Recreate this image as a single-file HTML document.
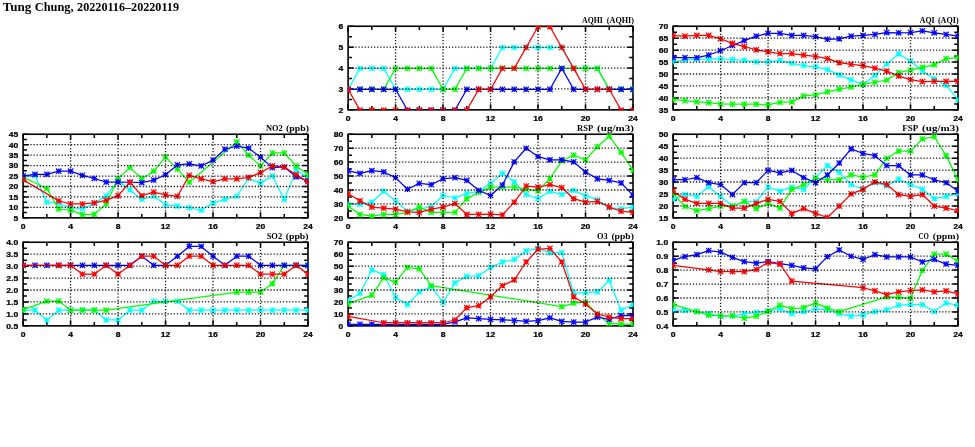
<!DOCTYPE html>
<html><head><meta charset="utf-8"><style>
html,body{margin:0;padding:0;background:#fff;width:975px;height:447px;overflow:hidden}
svg{display:block;will-change:transform}
.n{font-family:"Liberation Sans",sans-serif;font-weight:bold;font-size:7.8px;fill:#000;stroke:#000;stroke-width:0.25}
.t{font-family:"Liberation Serif",serif;font-weight:bold;font-size:9.1px;fill:#000}
.m{font-family:"Liberation Serif",serif;font-weight:bold;font-size:11.6px;fill:#000}
</style></head><body>
<svg width="975" height="447" viewBox="0 0 975 447">
<text class="m" x="2.7" y="10.9" textLength="28.6" lengthAdjust="spacingAndGlyphs">Tung</text><text class="m" x="34.7" y="10.9" textLength="39.0" lengthAdjust="spacingAndGlyphs">Chung,</text><text class="m" x="77.1" y="10.9" textLength="101.9" lengthAdjust="spacingAndGlyphs">20220116&#8211;20220119</text>
<path d="M348.1 109.85h5.6 M633 109.85h-5.6 M348.1 99.4h3.8 M633 99.4h-3.8 M348.1 88.95h5.6 M633 88.95h-5.6 M348.1 78.5h3.8 M633 78.5h-3.8 M348.1 68.05h5.6 M633 68.05h-5.6 M348.1 57.6h3.8 M633 57.6h-3.8 M348.1 47.15h5.6 M633 47.15h-5.6 M348.1 36.7h3.8 M633 36.7h-3.8 M348.1 26.25h5.6 M633 26.25h-5.6 M348.1 109.85v-5.6 M348.1 26.25v5.6 M371.84 109.85v-3.8 M371.84 26.25v3.8 M395.58 109.85v-5.6 M395.58 26.25v5.6 M419.33 109.85v-3.8 M419.33 26.25v3.8 M443.07 109.85v-5.6 M443.07 26.25v5.6 M466.81 109.85v-3.8 M466.81 26.25v3.8 M490.55 109.85v-5.6 M490.55 26.25v5.6 M514.29 109.85v-3.8 M514.29 26.25v3.8 M538.03 109.85v-5.6 M538.03 26.25v5.6 M561.77 109.85v-3.8 M561.77 26.25v3.8 M585.52 109.85v-5.6 M585.52 26.25v5.6 M609.26 109.85v-3.8 M609.26 26.25v3.8 M633 109.85v-5.6 M633 26.25v5.6" stroke="#000" stroke-width="1.5" fill="none"/>
<rect x="348.1" y="26.25" width="284.9" height="83.6" fill="none" stroke="#000" stroke-width="1.6"/>
<clipPath id="c10"><rect x="347.65" y="25.8" width="285.8" height="84.5"/></clipPath>
<clipPath id="c10l"><rect x="348.9" y="27.05" width="283.3" height="82"/></clipPath>
<path clip-path="url(#c10l)" d="M348.1 89.3 L359.97 68.4 L371.84 68.4 L383.71 68.4 L395.58 89.3 L407.45 89.3 L419.33 89.3 L431.2 89.3 L443.07 89.3 L454.94 68.4 L466.81 68.4 L478.68 68.4 L490.55 68.4 L502.42 47.5 L514.29 47.5 L526.16 47.5 L538.03 47.5 L549.9 47.5 L561.77 47.5 L573.65 68.4 L585.52 68.4 L597.39 68.4 L609.26 89.3 L621.13 89.3 L633 89.3" stroke="#00ffff" stroke-width="1.25" fill="none" stroke-linejoin="round"/>
<path clip-path="url(#c10)" d="M345.4 89.3h5.4 M348.1 86.6v5.4 M345.4 86.6l5.4 5.4 M345.4 92l5.4 -5.4 M357.27 68.4h5.4 M359.97 65.7v5.4 M357.27 65.7l5.4 5.4 M357.27 71.1l5.4 -5.4 M369.14 68.4h5.4 M371.84 65.7v5.4 M369.14 65.7l5.4 5.4 M369.14 71.1l5.4 -5.4 M381.01 68.4h5.4 M383.71 65.7v5.4 M381.01 65.7l5.4 5.4 M381.01 71.1l5.4 -5.4 M392.88 89.3h5.4 M395.58 86.6v5.4 M392.88 86.6l5.4 5.4 M392.88 92l5.4 -5.4 M404.75 89.3h5.4 M407.45 86.6v5.4 M404.75 86.6l5.4 5.4 M404.75 92l5.4 -5.4 M416.63 89.3h5.4 M419.33 86.6v5.4 M416.63 86.6l5.4 5.4 M416.63 92l5.4 -5.4 M428.5 89.3h5.4 M431.2 86.6v5.4 M428.5 86.6l5.4 5.4 M428.5 92l5.4 -5.4 M440.37 89.3h5.4 M443.07 86.6v5.4 M440.37 86.6l5.4 5.4 M440.37 92l5.4 -5.4 M452.24 68.4h5.4 M454.94 65.7v5.4 M452.24 65.7l5.4 5.4 M452.24 71.1l5.4 -5.4 M464.11 68.4h5.4 M466.81 65.7v5.4 M464.11 65.7l5.4 5.4 M464.11 71.1l5.4 -5.4 M475.98 68.4h5.4 M478.68 65.7v5.4 M475.98 65.7l5.4 5.4 M475.98 71.1l5.4 -5.4 M487.85 68.4h5.4 M490.55 65.7v5.4 M487.85 65.7l5.4 5.4 M487.85 71.1l5.4 -5.4 M499.72 47.5h5.4 M502.42 44.8v5.4 M499.72 44.8l5.4 5.4 M499.72 50.2l5.4 -5.4 M511.59 47.5h5.4 M514.29 44.8v5.4 M511.59 44.8l5.4 5.4 M511.59 50.2l5.4 -5.4 M523.46 47.5h5.4 M526.16 44.8v5.4 M523.46 44.8l5.4 5.4 M523.46 50.2l5.4 -5.4 M535.33 47.5h5.4 M538.03 44.8v5.4 M535.33 44.8l5.4 5.4 M535.33 50.2l5.4 -5.4 M547.2 47.5h5.4 M549.9 44.8v5.4 M547.2 44.8l5.4 5.4 M547.2 50.2l5.4 -5.4 M559.07 47.5h5.4 M561.77 44.8v5.4 M559.07 44.8l5.4 5.4 M559.07 50.2l5.4 -5.4 M570.95 68.4h5.4 M573.65 65.7v5.4 M570.95 65.7l5.4 5.4 M570.95 71.1l5.4 -5.4 M582.82 68.4h5.4 M585.52 65.7v5.4 M582.82 65.7l5.4 5.4 M582.82 71.1l5.4 -5.4 M594.69 68.4h5.4 M597.39 65.7v5.4 M594.69 65.7l5.4 5.4 M594.69 71.1l5.4 -5.4 M606.56 89.3h5.4 M609.26 86.6v5.4 M606.56 86.6l5.4 5.4 M606.56 92l5.4 -5.4 M618.43 89.3h5.4 M621.13 86.6v5.4 M618.43 86.6l5.4 5.4 M618.43 92l5.4 -5.4 M630.3 89.3h5.4 M633 86.6v5.4 M630.3 86.6l5.4 5.4 M630.3 92l5.4 -5.4" stroke="#00ffff" stroke-width="1.15" fill="none"/>
<path clip-path="url(#c10l)" d="M348.1 89.3 L359.97 89.3 L371.84 89.3 L383.71 89.3 L395.58 68.4 L407.45 68.4 L419.33 68.4 L431.2 68.4 L443.07 89.3 L454.94 89.3 L466.81 68.4 L478.68 68.4 L490.55 68.4 L502.42 68.4 L514.29 68.4 L526.16 68.4 L538.03 68.4 L549.9 68.4 L561.77 68.4 L573.65 68.4 L585.52 68.4 L597.39 68.4 L609.26 89.3 L621.13 89.3 L633 89.3" stroke="#00ff00" stroke-width="1.25" fill="none" stroke-linejoin="round"/>
<path clip-path="url(#c10)" d="M345.4 89.3h5.4 M348.1 86.6v5.4 M345.4 86.6l5.4 5.4 M345.4 92l5.4 -5.4 M357.27 89.3h5.4 M359.97 86.6v5.4 M357.27 86.6l5.4 5.4 M357.27 92l5.4 -5.4 M369.14 89.3h5.4 M371.84 86.6v5.4 M369.14 86.6l5.4 5.4 M369.14 92l5.4 -5.4 M381.01 89.3h5.4 M383.71 86.6v5.4 M381.01 86.6l5.4 5.4 M381.01 92l5.4 -5.4 M392.88 68.4h5.4 M395.58 65.7v5.4 M392.88 65.7l5.4 5.4 M392.88 71.1l5.4 -5.4 M404.75 68.4h5.4 M407.45 65.7v5.4 M404.75 65.7l5.4 5.4 M404.75 71.1l5.4 -5.4 M416.63 68.4h5.4 M419.33 65.7v5.4 M416.63 65.7l5.4 5.4 M416.63 71.1l5.4 -5.4 M428.5 68.4h5.4 M431.2 65.7v5.4 M428.5 65.7l5.4 5.4 M428.5 71.1l5.4 -5.4 M440.37 89.3h5.4 M443.07 86.6v5.4 M440.37 86.6l5.4 5.4 M440.37 92l5.4 -5.4 M452.24 89.3h5.4 M454.94 86.6v5.4 M452.24 86.6l5.4 5.4 M452.24 92l5.4 -5.4 M464.11 68.4h5.4 M466.81 65.7v5.4 M464.11 65.7l5.4 5.4 M464.11 71.1l5.4 -5.4 M475.98 68.4h5.4 M478.68 65.7v5.4 M475.98 65.7l5.4 5.4 M475.98 71.1l5.4 -5.4 M487.85 68.4h5.4 M490.55 65.7v5.4 M487.85 65.7l5.4 5.4 M487.85 71.1l5.4 -5.4 M499.72 68.4h5.4 M502.42 65.7v5.4 M499.72 65.7l5.4 5.4 M499.72 71.1l5.4 -5.4 M511.59 68.4h5.4 M514.29 65.7v5.4 M511.59 65.7l5.4 5.4 M511.59 71.1l5.4 -5.4 M523.46 68.4h5.4 M526.16 65.7v5.4 M523.46 65.7l5.4 5.4 M523.46 71.1l5.4 -5.4 M535.33 68.4h5.4 M538.03 65.7v5.4 M535.33 65.7l5.4 5.4 M535.33 71.1l5.4 -5.4 M547.2 68.4h5.4 M549.9 65.7v5.4 M547.2 65.7l5.4 5.4 M547.2 71.1l5.4 -5.4 M559.07 68.4h5.4 M561.77 65.7v5.4 M559.07 65.7l5.4 5.4 M559.07 71.1l5.4 -5.4 M570.95 68.4h5.4 M573.65 65.7v5.4 M570.95 65.7l5.4 5.4 M570.95 71.1l5.4 -5.4 M582.82 68.4h5.4 M585.52 65.7v5.4 M582.82 65.7l5.4 5.4 M582.82 71.1l5.4 -5.4 M594.69 68.4h5.4 M597.39 65.7v5.4 M594.69 65.7l5.4 5.4 M594.69 71.1l5.4 -5.4 M606.56 89.3h5.4 M609.26 86.6v5.4 M606.56 86.6l5.4 5.4 M606.56 92l5.4 -5.4 M618.43 89.3h5.4 M621.13 86.6v5.4 M618.43 86.6l5.4 5.4 M618.43 92l5.4 -5.4 M630.3 89.3h5.4 M633 86.6v5.4 M630.3 86.6l5.4 5.4 M630.3 92l5.4 -5.4" stroke="#00ff00" stroke-width="1.15" fill="none"/>
<path clip-path="url(#c10l)" d="M348.1 89.3 L359.97 89.3 L371.84 89.3 L383.71 89.3 L395.58 89.3 L407.45 110.2 L419.33 110.2 L431.2 110.2 L443.07 110.2 L454.94 110.2 L466.81 89.3 L478.68 89.3 L490.55 89.3 L502.42 89.3 L514.29 89.3 L526.16 89.3 L538.03 89.3 L549.9 89.3 L561.77 68.4 L573.65 89.3 L585.52 89.3 L597.39 89.3 L609.26 89.3 L621.13 89.3 L633 89.3" stroke="#0000ff" stroke-width="1.25" fill="none" stroke-linejoin="round"/>
<path clip-path="url(#c10)" d="M345.4 89.3h5.4 M348.1 86.6v5.4 M345.4 86.6l5.4 5.4 M345.4 92l5.4 -5.4 M357.27 89.3h5.4 M359.97 86.6v5.4 M357.27 86.6l5.4 5.4 M357.27 92l5.4 -5.4 M369.14 89.3h5.4 M371.84 86.6v5.4 M369.14 86.6l5.4 5.4 M369.14 92l5.4 -5.4 M381.01 89.3h5.4 M383.71 86.6v5.4 M381.01 86.6l5.4 5.4 M381.01 92l5.4 -5.4 M392.88 89.3h5.4 M395.58 86.6v5.4 M392.88 86.6l5.4 5.4 M392.88 92l5.4 -5.4 M404.75 110.2h5.4 M407.45 107.5v5.4 M404.75 107.5l5.4 5.4 M404.75 112.9l5.4 -5.4 M416.63 110.2h5.4 M419.33 107.5v5.4 M416.63 107.5l5.4 5.4 M416.63 112.9l5.4 -5.4 M428.5 110.2h5.4 M431.2 107.5v5.4 M428.5 107.5l5.4 5.4 M428.5 112.9l5.4 -5.4 M440.37 110.2h5.4 M443.07 107.5v5.4 M440.37 107.5l5.4 5.4 M440.37 112.9l5.4 -5.4 M452.24 110.2h5.4 M454.94 107.5v5.4 M452.24 107.5l5.4 5.4 M452.24 112.9l5.4 -5.4 M464.11 89.3h5.4 M466.81 86.6v5.4 M464.11 86.6l5.4 5.4 M464.11 92l5.4 -5.4 M475.98 89.3h5.4 M478.68 86.6v5.4 M475.98 86.6l5.4 5.4 M475.98 92l5.4 -5.4 M487.85 89.3h5.4 M490.55 86.6v5.4 M487.85 86.6l5.4 5.4 M487.85 92l5.4 -5.4 M499.72 89.3h5.4 M502.42 86.6v5.4 M499.72 86.6l5.4 5.4 M499.72 92l5.4 -5.4 M511.59 89.3h5.4 M514.29 86.6v5.4 M511.59 86.6l5.4 5.4 M511.59 92l5.4 -5.4 M523.46 89.3h5.4 M526.16 86.6v5.4 M523.46 86.6l5.4 5.4 M523.46 92l5.4 -5.4 M535.33 89.3h5.4 M538.03 86.6v5.4 M535.33 86.6l5.4 5.4 M535.33 92l5.4 -5.4 M547.2 89.3h5.4 M549.9 86.6v5.4 M547.2 86.6l5.4 5.4 M547.2 92l5.4 -5.4 M559.07 68.4h5.4 M561.77 65.7v5.4 M559.07 65.7l5.4 5.4 M559.07 71.1l5.4 -5.4 M570.95 89.3h5.4 M573.65 86.6v5.4 M570.95 86.6l5.4 5.4 M570.95 92l5.4 -5.4 M582.82 89.3h5.4 M585.52 86.6v5.4 M582.82 86.6l5.4 5.4 M582.82 92l5.4 -5.4 M594.69 89.3h5.4 M597.39 86.6v5.4 M594.69 86.6l5.4 5.4 M594.69 92l5.4 -5.4 M606.56 89.3h5.4 M609.26 86.6v5.4 M606.56 86.6l5.4 5.4 M606.56 92l5.4 -5.4 M618.43 89.3h5.4 M621.13 86.6v5.4 M618.43 86.6l5.4 5.4 M618.43 92l5.4 -5.4 M630.3 89.3h5.4 M633 86.6v5.4 M630.3 86.6l5.4 5.4 M630.3 92l5.4 -5.4" stroke="#0000ff" stroke-width="1.15" fill="none"/>
<path clip-path="url(#c10l)" d="M348.1 89.3 L359.97 110.2 L371.84 110.2 L383.71 110.2 L395.58 110.2 L407.45 110.2 L419.33 110.2 L431.2 110.2 L443.07 110.2 L454.94 110.2 L466.81 110.2 L478.68 89.3 L490.55 89.3 L502.42 68.4 L514.29 68.4 L526.16 47.5 L538.03 26.6 L549.9 26.6 L561.77 47.5 L573.65 68.4 L585.52 89.3 L597.39 89.3 L609.26 89.3 L621.13 110.2 L633 110.2" stroke="#ff0000" stroke-width="1.25" fill="none" stroke-linejoin="round"/>
<path clip-path="url(#c10)" d="M345.4 89.3h5.4 M348.1 86.6v5.4 M345.4 86.6l5.4 5.4 M345.4 92l5.4 -5.4 M357.27 110.2h5.4 M359.97 107.5v5.4 M357.27 107.5l5.4 5.4 M357.27 112.9l5.4 -5.4 M369.14 110.2h5.4 M371.84 107.5v5.4 M369.14 107.5l5.4 5.4 M369.14 112.9l5.4 -5.4 M381.01 110.2h5.4 M383.71 107.5v5.4 M381.01 107.5l5.4 5.4 M381.01 112.9l5.4 -5.4 M392.88 110.2h5.4 M395.58 107.5v5.4 M392.88 107.5l5.4 5.4 M392.88 112.9l5.4 -5.4 M404.75 110.2h5.4 M407.45 107.5v5.4 M404.75 107.5l5.4 5.4 M404.75 112.9l5.4 -5.4 M416.63 110.2h5.4 M419.33 107.5v5.4 M416.63 107.5l5.4 5.4 M416.63 112.9l5.4 -5.4 M428.5 110.2h5.4 M431.2 107.5v5.4 M428.5 107.5l5.4 5.4 M428.5 112.9l5.4 -5.4 M440.37 110.2h5.4 M443.07 107.5v5.4 M440.37 107.5l5.4 5.4 M440.37 112.9l5.4 -5.4 M452.24 110.2h5.4 M454.94 107.5v5.4 M452.24 107.5l5.4 5.4 M452.24 112.9l5.4 -5.4 M464.11 110.2h5.4 M466.81 107.5v5.4 M464.11 107.5l5.4 5.4 M464.11 112.9l5.4 -5.4 M475.98 89.3h5.4 M478.68 86.6v5.4 M475.98 86.6l5.4 5.4 M475.98 92l5.4 -5.4 M487.85 89.3h5.4 M490.55 86.6v5.4 M487.85 86.6l5.4 5.4 M487.85 92l5.4 -5.4 M499.72 68.4h5.4 M502.42 65.7v5.4 M499.72 65.7l5.4 5.4 M499.72 71.1l5.4 -5.4 M511.59 68.4h5.4 M514.29 65.7v5.4 M511.59 65.7l5.4 5.4 M511.59 71.1l5.4 -5.4 M523.46 47.5h5.4 M526.16 44.8v5.4 M523.46 44.8l5.4 5.4 M523.46 50.2l5.4 -5.4 M535.33 26.6h5.4 M538.03 23.9v5.4 M535.33 23.9l5.4 5.4 M535.33 29.3l5.4 -5.4 M547.2 26.6h5.4 M549.9 23.9v5.4 M547.2 23.9l5.4 5.4 M547.2 29.3l5.4 -5.4 M559.07 47.5h5.4 M561.77 44.8v5.4 M559.07 44.8l5.4 5.4 M559.07 50.2l5.4 -5.4 M570.95 68.4h5.4 M573.65 65.7v5.4 M570.95 65.7l5.4 5.4 M570.95 71.1l5.4 -5.4 M582.82 89.3h5.4 M585.52 86.6v5.4 M582.82 86.6l5.4 5.4 M582.82 92l5.4 -5.4 M594.69 89.3h5.4 M597.39 86.6v5.4 M594.69 86.6l5.4 5.4 M594.69 92l5.4 -5.4 M606.56 89.3h5.4 M609.26 86.6v5.4 M606.56 86.6l5.4 5.4 M606.56 92l5.4 -5.4 M618.43 110.2h5.4 M621.13 107.5v5.4 M618.43 107.5l5.4 5.4 M618.43 112.9l5.4 -5.4 M630.3 110.2h5.4 M633 107.5v5.4 M630.3 107.5l5.4 5.4 M630.3 112.9l5.4 -5.4" stroke="#ff0000" stroke-width="1.15" fill="none"/>
<path d="M348.1 88.95H633 M348.1 68.05H633 M348.1 47.15H633" stroke="#000" stroke-width="1.3" stroke-dasharray="1.3 1.8175" stroke-dashoffset="2.1335" stroke-opacity="0.9" fill="none"/><path d="M395.58 26.25V109.85 M443.07 26.25V109.85 M490.55 26.25V109.85 M538.03 26.25V109.85 M585.52 26.25V109.85" stroke="#000" stroke-width="1.3" stroke-dasharray="1.3 1.8175" stroke-dashoffset="1.9475" stroke-opacity="0.9" fill="none"/>
<text class="n" transform="translate(343.2 112.65) scale(1.1 1)" text-anchor="end">2</text>
<text class="n" transform="translate(343.2 91.75) scale(1.1 1)" text-anchor="end">3</text>
<text class="n" transform="translate(343.2 70.85) scale(1.1 1)" text-anchor="end">4</text>
<text class="n" transform="translate(343.2 49.95) scale(1.1 1)" text-anchor="end">5</text>
<text class="n" transform="translate(343.2 29.05) scale(1.1 1)" text-anchor="end">6</text>
<text class="n" transform="translate(348.1 120.85) scale(1.1 1)" text-anchor="middle">0</text>
<text class="n" transform="translate(395.58 120.85) scale(1.1 1)" text-anchor="middle">4</text>
<text class="n" transform="translate(443.07 120.85) scale(1.1 1)" text-anchor="middle">8</text>
<text class="n" transform="translate(490.55 120.85) scale(1.1 1)" text-anchor="middle">12</text>
<text class="n" transform="translate(538.03 120.85) scale(1.1 1)" text-anchor="middle">16</text>
<text class="n" transform="translate(585.52 120.85) scale(1.1 1)" text-anchor="middle">20</text>
<text class="n" transform="translate(633 120.85) scale(1.1 1)" text-anchor="middle">24</text>
<text class="t" x="582" y="22.7" textLength="20.8" lengthAdjust="spacingAndGlyphs">AQHI</text>
<text class="t" x="606.8" y="22.7" textLength="27.2" lengthAdjust="spacingAndGlyphs">(AQHI)</text>
<path d="M673.1 109.85h5.6 M958 109.85h-5.6 M673.1 103.88h3.8 M958 103.88h-3.8 M673.1 97.91h5.6 M958 97.91h-5.6 M673.1 91.94h3.8 M958 91.94h-3.8 M673.1 85.96h5.6 M958 85.96h-5.6 M673.1 79.99h3.8 M958 79.99h-3.8 M673.1 74.02h5.6 M958 74.02h-5.6 M673.1 68.05h3.8 M958 68.05h-3.8 M673.1 62.08h5.6 M958 62.08h-5.6 M673.1 56.11h3.8 M958 56.11h-3.8 M673.1 50.14h5.6 M958 50.14h-5.6 M673.1 44.16h3.8 M958 44.16h-3.8 M673.1 38.19h5.6 M958 38.19h-5.6 M673.1 32.22h3.8 M958 32.22h-3.8 M673.1 26.25h5.6 M958 26.25h-5.6 M673.1 109.85v-5.6 M673.1 26.25v5.6 M696.84 109.85v-3.8 M696.84 26.25v3.8 M720.58 109.85v-5.6 M720.58 26.25v5.6 M744.33 109.85v-3.8 M744.33 26.25v3.8 M768.07 109.85v-5.6 M768.07 26.25v5.6 M791.81 109.85v-3.8 M791.81 26.25v3.8 M815.55 109.85v-5.6 M815.55 26.25v5.6 M839.29 109.85v-3.8 M839.29 26.25v3.8 M863.03 109.85v-5.6 M863.03 26.25v5.6 M886.77 109.85v-3.8 M886.77 26.25v3.8 M910.52 109.85v-5.6 M910.52 26.25v5.6 M934.26 109.85v-3.8 M934.26 26.25v3.8 M958 109.85v-5.6 M958 26.25v5.6" stroke="#000" stroke-width="1.5" fill="none"/>
<rect x="673.1" y="26.25" width="284.9" height="83.6" fill="none" stroke="#000" stroke-width="1.6"/>
<clipPath id="c20"><rect x="672.65" y="25.8" width="285.8" height="84.5"/></clipPath>
<clipPath id="c20l"><rect x="673.9" y="27.05" width="283.3" height="82"/></clipPath>
<path clip-path="url(#c20l)" d="M673.1 61.95 L684.97 59.8 L696.84 59.08 L708.71 59.08 L720.58 58.85 L732.45 59.56 L744.33 60.28 L756.2 61.95 L768.07 61.95 L779.94 60.28 L791.81 63.38 L803.68 65.53 L815.55 66.97 L827.42 69.59 L839.29 74.85 L851.16 79.87 L863.03 84.4 L874.9 75.33 L886.77 64.1 L898.65 53.83 L910.52 61.23 L922.39 70.79 L934.26 78.67 L946.13 85.36 L958 99.69" stroke="#00ffff" stroke-width="1.25" fill="none" stroke-linejoin="round"/>
<path clip-path="url(#c20)" d="M670.4 61.95h5.4 M673.1 59.25v5.4 M670.4 59.25l5.4 5.4 M670.4 64.65l5.4 -5.4 M682.27 59.8h5.4 M684.97 57.1v5.4 M682.27 57.1l5.4 5.4 M682.27 62.5l5.4 -5.4 M694.14 59.08h5.4 M696.84 56.38v5.4 M694.14 56.38l5.4 5.4 M694.14 61.78l5.4 -5.4 M706.01 59.08h5.4 M708.71 56.38v5.4 M706.01 56.38l5.4 5.4 M706.01 61.78l5.4 -5.4 M717.88 58.85h5.4 M720.58 56.15v5.4 M717.88 56.15l5.4 5.4 M717.88 61.55l5.4 -5.4 M729.75 59.56h5.4 M732.45 56.86v5.4 M729.75 56.86l5.4 5.4 M729.75 62.26l5.4 -5.4 M741.62 60.28h5.4 M744.33 57.58v5.4 M741.62 57.58l5.4 5.4 M741.62 62.98l5.4 -5.4 M753.5 61.95h5.4 M756.2 59.25v5.4 M753.5 59.25l5.4 5.4 M753.5 64.65l5.4 -5.4 M765.37 61.95h5.4 M768.07 59.25v5.4 M765.37 59.25l5.4 5.4 M765.37 64.65l5.4 -5.4 M777.24 60.28h5.4 M779.94 57.58v5.4 M777.24 57.58l5.4 5.4 M777.24 62.98l5.4 -5.4 M789.11 63.38h5.4 M791.81 60.68v5.4 M789.11 60.68l5.4 5.4 M789.11 66.08l5.4 -5.4 M800.98 65.53h5.4 M803.68 62.83v5.4 M800.98 62.83l5.4 5.4 M800.98 68.23l5.4 -5.4 M812.85 66.97h5.4 M815.55 64.27v5.4 M812.85 64.27l5.4 5.4 M812.85 69.67l5.4 -5.4 M824.72 69.59h5.4 M827.42 66.89v5.4 M824.72 66.89l5.4 5.4 M824.72 72.29l5.4 -5.4 M836.59 74.85h5.4 M839.29 72.15v5.4 M836.59 72.15l5.4 5.4 M836.59 77.55l5.4 -5.4 M848.46 79.87h5.4 M851.16 77.17v5.4 M848.46 77.17l5.4 5.4 M848.46 82.57l5.4 -5.4 M860.33 84.4h5.4 M863.03 81.7v5.4 M860.33 81.7l5.4 5.4 M860.33 87.1l5.4 -5.4 M872.2 75.33h5.4 M874.9 72.63v5.4 M872.2 72.63l5.4 5.4 M872.2 78.03l5.4 -5.4 M884.07 64.1h5.4 M886.77 61.4v5.4 M884.07 61.4l5.4 5.4 M884.07 66.8l5.4 -5.4 M895.95 53.83h5.4 M898.65 51.13v5.4 M895.95 51.13l5.4 5.4 M895.95 56.53l5.4 -5.4 M907.82 61.23h5.4 M910.52 58.53v5.4 M907.82 58.53l5.4 5.4 M907.82 63.93l5.4 -5.4 M919.69 70.79h5.4 M922.39 68.09v5.4 M919.69 68.09l5.4 5.4 M919.69 73.49l5.4 -5.4 M931.56 78.67h5.4 M934.26 75.97v5.4 M931.56 75.97l5.4 5.4 M931.56 81.37l5.4 -5.4 M943.43 85.36h5.4 M946.13 82.66v5.4 M943.43 82.66l5.4 5.4 M943.43 88.06l5.4 -5.4 M955.3 99.69h5.4 M958 96.99v5.4 M955.3 96.99l5.4 5.4 M955.3 102.39l5.4 -5.4" stroke="#00ffff" stroke-width="1.15" fill="none"/>
<path clip-path="url(#c20l)" d="M673.1 99.69 L684.97 100.65 L696.84 101.84 L708.71 102.56 L720.58 103.99 L732.45 104.23 L744.33 104.23 L756.2 104.23 L768.07 104.95 L779.94 102.32 L791.81 101.84 L803.68 95.87 L815.55 94.91 L827.42 91.81 L839.29 89.18 L851.16 87.03 L863.03 84.4 L874.9 82.25 L886.77 80.1 L898.65 72.7 L910.52 70.07 L922.39 67.44 L934.26 64.82 L946.13 58.61 L958 57.65" stroke="#00ff00" stroke-width="1.25" fill="none" stroke-linejoin="round"/>
<path clip-path="url(#c20)" d="M670.4 99.69h5.4 M673.1 96.99v5.4 M670.4 96.99l5.4 5.4 M670.4 102.39l5.4 -5.4 M682.27 100.65h5.4 M684.97 97.95v5.4 M682.27 97.95l5.4 5.4 M682.27 103.35l5.4 -5.4 M694.14 101.84h5.4 M696.84 99.14v5.4 M694.14 99.14l5.4 5.4 M694.14 104.54l5.4 -5.4 M706.01 102.56h5.4 M708.71 99.86v5.4 M706.01 99.86l5.4 5.4 M706.01 105.26l5.4 -5.4 M717.88 103.99h5.4 M720.58 101.29v5.4 M717.88 101.29l5.4 5.4 M717.88 106.69l5.4 -5.4 M729.75 104.23h5.4 M732.45 101.53v5.4 M729.75 101.53l5.4 5.4 M729.75 106.93l5.4 -5.4 M741.62 104.23h5.4 M744.33 101.53v5.4 M741.62 101.53l5.4 5.4 M741.62 106.93l5.4 -5.4 M753.5 104.23h5.4 M756.2 101.53v5.4 M753.5 101.53l5.4 5.4 M753.5 106.93l5.4 -5.4 M765.37 104.95h5.4 M768.07 102.25v5.4 M765.37 102.25l5.4 5.4 M765.37 107.65l5.4 -5.4 M777.24 102.32h5.4 M779.94 99.62v5.4 M777.24 99.62l5.4 5.4 M777.24 105.02l5.4 -5.4 M789.11 101.84h5.4 M791.81 99.14v5.4 M789.11 99.14l5.4 5.4 M789.11 104.54l5.4 -5.4 M800.98 95.87h5.4 M803.68 93.17v5.4 M800.98 93.17l5.4 5.4 M800.98 98.57l5.4 -5.4 M812.85 94.91h5.4 M815.55 92.21v5.4 M812.85 92.21l5.4 5.4 M812.85 97.61l5.4 -5.4 M824.72 91.81h5.4 M827.42 89.11v5.4 M824.72 89.11l5.4 5.4 M824.72 94.51l5.4 -5.4 M836.59 89.18h5.4 M839.29 86.48v5.4 M836.59 86.48l5.4 5.4 M836.59 91.88l5.4 -5.4 M848.46 87.03h5.4 M851.16 84.33v5.4 M848.46 84.33l5.4 5.4 M848.46 89.73l5.4 -5.4 M860.33 84.4h5.4 M863.03 81.7v5.4 M860.33 81.7l5.4 5.4 M860.33 87.1l5.4 -5.4 M872.2 82.25h5.4 M874.9 79.55v5.4 M872.2 79.55l5.4 5.4 M872.2 84.95l5.4 -5.4 M884.07 80.1h5.4 M886.77 77.4v5.4 M884.07 77.4l5.4 5.4 M884.07 82.8l5.4 -5.4 M895.95 72.7h5.4 M898.65 70v5.4 M895.95 70l5.4 5.4 M895.95 75.4l5.4 -5.4 M907.82 70.07h5.4 M910.52 67.37v5.4 M907.82 67.37l5.4 5.4 M907.82 72.77l5.4 -5.4 M919.69 67.44h5.4 M922.39 64.74v5.4 M919.69 64.74l5.4 5.4 M919.69 70.14l5.4 -5.4 M931.56 64.82h5.4 M934.26 62.12v5.4 M931.56 62.12l5.4 5.4 M931.56 67.52l5.4 -5.4 M943.43 58.61h5.4 M946.13 55.91v5.4 M943.43 55.91l5.4 5.4 M943.43 61.31l5.4 -5.4 M955.3 57.65h5.4 M958 54.95v5.4 M955.3 54.95l5.4 5.4 M955.3 60.35l5.4 -5.4" stroke="#00ff00" stroke-width="1.15" fill="none"/>
<path clip-path="url(#c20l)" d="M673.1 57.65 L684.97 57.65 L696.84 57.65 L708.71 55.02 L720.58 50.72 L732.45 45.47 L744.33 40.69 L756.2 36.15 L768.07 33.29 L779.94 33.29 L791.81 35.44 L803.68 35.44 L815.55 36.63 L827.42 39.26 L839.29 38.78 L851.16 36.15 L863.03 35.44 L874.9 34.48 L886.77 32.57 L898.65 32.81 L910.52 32.57 L922.39 30.9 L934.26 32.81 L946.13 34.48 L958 36.15" stroke="#0000ff" stroke-width="1.25" fill="none" stroke-linejoin="round"/>
<path clip-path="url(#c20)" d="M670.4 57.65h5.4 M673.1 54.95v5.4 M670.4 54.95l5.4 5.4 M670.4 60.35l5.4 -5.4 M682.27 57.65h5.4 M684.97 54.95v5.4 M682.27 54.95l5.4 5.4 M682.27 60.35l5.4 -5.4 M694.14 57.65h5.4 M696.84 54.95v5.4 M694.14 54.95l5.4 5.4 M694.14 60.35l5.4 -5.4 M706.01 55.02h5.4 M708.71 52.32v5.4 M706.01 52.32l5.4 5.4 M706.01 57.72l5.4 -5.4 M717.88 50.72h5.4 M720.58 48.02v5.4 M717.88 48.02l5.4 5.4 M717.88 53.42l5.4 -5.4 M729.75 45.47h5.4 M732.45 42.77v5.4 M729.75 42.77l5.4 5.4 M729.75 48.17l5.4 -5.4 M741.62 40.69h5.4 M744.33 37.99v5.4 M741.62 37.99l5.4 5.4 M741.62 43.39l5.4 -5.4 M753.5 36.15h5.4 M756.2 33.45v5.4 M753.5 33.45l5.4 5.4 M753.5 38.85l5.4 -5.4 M765.37 33.29h5.4 M768.07 30.59v5.4 M765.37 30.59l5.4 5.4 M765.37 35.99l5.4 -5.4 M777.24 33.29h5.4 M779.94 30.59v5.4 M777.24 30.59l5.4 5.4 M777.24 35.99l5.4 -5.4 M789.11 35.44h5.4 M791.81 32.74v5.4 M789.11 32.74l5.4 5.4 M789.11 38.14l5.4 -5.4 M800.98 35.44h5.4 M803.68 32.74v5.4 M800.98 32.74l5.4 5.4 M800.98 38.14l5.4 -5.4 M812.85 36.63h5.4 M815.55 33.93v5.4 M812.85 33.93l5.4 5.4 M812.85 39.33l5.4 -5.4 M824.72 39.26h5.4 M827.42 36.56v5.4 M824.72 36.56l5.4 5.4 M824.72 41.96l5.4 -5.4 M836.59 38.78h5.4 M839.29 36.08v5.4 M836.59 36.08l5.4 5.4 M836.59 41.48l5.4 -5.4 M848.46 36.15h5.4 M851.16 33.45v5.4 M848.46 33.45l5.4 5.4 M848.46 38.85l5.4 -5.4 M860.33 35.44h5.4 M863.03 32.74v5.4 M860.33 32.74l5.4 5.4 M860.33 38.14l5.4 -5.4 M872.2 34.48h5.4 M874.9 31.78v5.4 M872.2 31.78l5.4 5.4 M872.2 37.18l5.4 -5.4 M884.07 32.57h5.4 M886.77 29.87v5.4 M884.07 29.87l5.4 5.4 M884.07 35.27l5.4 -5.4 M895.95 32.81h5.4 M898.65 30.11v5.4 M895.95 30.11l5.4 5.4 M895.95 35.51l5.4 -5.4 M907.82 32.57h5.4 M910.52 29.87v5.4 M907.82 29.87l5.4 5.4 M907.82 35.27l5.4 -5.4 M919.69 30.9h5.4 M922.39 28.2v5.4 M919.69 28.2l5.4 5.4 M919.69 33.6l5.4 -5.4 M931.56 32.81h5.4 M934.26 30.11v5.4 M931.56 30.11l5.4 5.4 M931.56 35.51l5.4 -5.4 M943.43 34.48h5.4 M946.13 31.78v5.4 M943.43 31.78l5.4 5.4 M943.43 37.18l5.4 -5.4 M955.3 36.15h5.4 M958 33.45v5.4 M955.3 33.45l5.4 5.4 M955.3 38.85l5.4 -5.4" stroke="#0000ff" stroke-width="1.15" fill="none"/>
<path clip-path="url(#c20l)" d="M673.1 35.68 L684.97 36.15 L696.84 35.44 L708.71 35.44 L720.58 38.78 L732.45 43.32 L744.33 46.66 L756.2 49.77 L768.07 51.92 L779.94 53.59 L791.81 53.59 L803.68 55.02 L815.55 56.46 L827.42 58.61 L839.29 62.67 L851.16 64.34 L863.03 65.53 L874.9 68.16 L886.77 71.03 L898.65 76.04 L910.52 79.63 L922.39 81.54 L934.26 81.3 L946.13 81.3 L958 81.3" stroke="#ff0000" stroke-width="1.25" fill="none" stroke-linejoin="round"/>
<path clip-path="url(#c20)" d="M670.4 35.68h5.4 M673.1 32.98v5.4 M670.4 32.98l5.4 5.4 M670.4 38.38l5.4 -5.4 M682.27 36.15h5.4 M684.97 33.45v5.4 M682.27 33.45l5.4 5.4 M682.27 38.85l5.4 -5.4 M694.14 35.44h5.4 M696.84 32.74v5.4 M694.14 32.74l5.4 5.4 M694.14 38.14l5.4 -5.4 M706.01 35.44h5.4 M708.71 32.74v5.4 M706.01 32.74l5.4 5.4 M706.01 38.14l5.4 -5.4 M717.88 38.78h5.4 M720.58 36.08v5.4 M717.88 36.08l5.4 5.4 M717.88 41.48l5.4 -5.4 M729.75 43.32h5.4 M732.45 40.62v5.4 M729.75 40.62l5.4 5.4 M729.75 46.02l5.4 -5.4 M741.62 46.66h5.4 M744.33 43.96v5.4 M741.62 43.96l5.4 5.4 M741.62 49.36l5.4 -5.4 M753.5 49.77h5.4 M756.2 47.07v5.4 M753.5 47.07l5.4 5.4 M753.5 52.47l5.4 -5.4 M765.37 51.92h5.4 M768.07 49.22v5.4 M765.37 49.22l5.4 5.4 M765.37 54.62l5.4 -5.4 M777.24 53.59h5.4 M779.94 50.89v5.4 M777.24 50.89l5.4 5.4 M777.24 56.29l5.4 -5.4 M789.11 53.59h5.4 M791.81 50.89v5.4 M789.11 50.89l5.4 5.4 M789.11 56.29l5.4 -5.4 M800.98 55.02h5.4 M803.68 52.32v5.4 M800.98 52.32l5.4 5.4 M800.98 57.72l5.4 -5.4 M812.85 56.46h5.4 M815.55 53.76v5.4 M812.85 53.76l5.4 5.4 M812.85 59.16l5.4 -5.4 M824.72 58.61h5.4 M827.42 55.91v5.4 M824.72 55.91l5.4 5.4 M824.72 61.31l5.4 -5.4 M836.59 62.67h5.4 M839.29 59.97v5.4 M836.59 59.97l5.4 5.4 M836.59 65.37l5.4 -5.4 M848.46 64.34h5.4 M851.16 61.64v5.4 M848.46 61.64l5.4 5.4 M848.46 67.04l5.4 -5.4 M860.33 65.53h5.4 M863.03 62.83v5.4 M860.33 62.83l5.4 5.4 M860.33 68.23l5.4 -5.4 M872.2 68.16h5.4 M874.9 65.46v5.4 M872.2 65.46l5.4 5.4 M872.2 70.86l5.4 -5.4 M884.07 71.03h5.4 M886.77 68.33v5.4 M884.07 68.33l5.4 5.4 M884.07 73.73l5.4 -5.4 M895.95 76.04h5.4 M898.65 73.34v5.4 M895.95 73.34l5.4 5.4 M895.95 78.74l5.4 -5.4 M907.82 79.63h5.4 M910.52 76.93v5.4 M907.82 76.93l5.4 5.4 M907.82 82.33l5.4 -5.4 M919.69 81.54h5.4 M922.39 78.84v5.4 M919.69 78.84l5.4 5.4 M919.69 84.24l5.4 -5.4 M931.56 81.3h5.4 M934.26 78.6v5.4 M931.56 78.6l5.4 5.4 M931.56 84l5.4 -5.4 M943.43 81.3h5.4 M946.13 78.6v5.4 M943.43 78.6l5.4 5.4 M943.43 84l5.4 -5.4 M955.3 81.3h5.4 M958 78.6v5.4 M955.3 78.6l5.4 5.4 M955.3 84l5.4 -5.4" stroke="#ff0000" stroke-width="1.15" fill="none"/>
<path d="M673.1 97.91H958 M673.1 85.96H958 M673.1 74.02H958 M673.1 62.08H958 M673.1 50.14H958 M673.1 38.19H958" stroke="#000" stroke-width="1.3" stroke-dasharray="1.3 1.8175" stroke-dashoffset="2.1335" stroke-opacity="0.9" fill="none"/><path d="M720.58 26.25V109.85 M768.07 26.25V109.85 M815.55 26.25V109.85 M863.03 26.25V109.85 M910.52 26.25V109.85" stroke="#000" stroke-width="1.3" stroke-dasharray="1.3 1.8175" stroke-dashoffset="1.9475" stroke-opacity="0.9" fill="none"/>
<text class="n" transform="translate(668.2 112.65) scale(1.1 1)" text-anchor="end">35</text>
<text class="n" transform="translate(668.2 100.71) scale(1.1 1)" text-anchor="end">40</text>
<text class="n" transform="translate(668.2 88.76) scale(1.1 1)" text-anchor="end">45</text>
<text class="n" transform="translate(668.2 76.82) scale(1.1 1)" text-anchor="end">50</text>
<text class="n" transform="translate(668.2 64.88) scale(1.1 1)" text-anchor="end">55</text>
<text class="n" transform="translate(668.2 52.94) scale(1.1 1)" text-anchor="end">60</text>
<text class="n" transform="translate(668.2 40.99) scale(1.1 1)" text-anchor="end">65</text>
<text class="n" transform="translate(668.2 29.05) scale(1.1 1)" text-anchor="end">70</text>
<text class="n" transform="translate(673.1 120.85) scale(1.1 1)" text-anchor="middle">0</text>
<text class="n" transform="translate(720.58 120.85) scale(1.1 1)" text-anchor="middle">4</text>
<text class="n" transform="translate(768.07 120.85) scale(1.1 1)" text-anchor="middle">8</text>
<text class="n" transform="translate(815.55 120.85) scale(1.1 1)" text-anchor="middle">12</text>
<text class="n" transform="translate(863.03 120.85) scale(1.1 1)" text-anchor="middle">16</text>
<text class="n" transform="translate(910.52 120.85) scale(1.1 1)" text-anchor="middle">20</text>
<text class="n" transform="translate(958 120.85) scale(1.1 1)" text-anchor="middle">24</text>
<text class="t" x="919.8" y="22.7" textLength="14.9" lengthAdjust="spacingAndGlyphs">AQI</text>
<text class="t" x="937.9" y="22.7" textLength="20.7" lengthAdjust="spacingAndGlyphs">(AQI)</text>
<path d="M23.1 217.85h5.6 M308 217.85h-5.6 M23.1 212.62h3.8 M308 212.62h-3.8 M23.1 207.4h5.6 M308 207.4h-5.6 M23.1 202.17h3.8 M308 202.17h-3.8 M23.1 196.95h5.6 M308 196.95h-5.6 M23.1 191.72h3.8 M308 191.72h-3.8 M23.1 186.5h5.6 M308 186.5h-5.6 M23.1 181.27h3.8 M308 181.27h-3.8 M23.1 176.05h5.6 M308 176.05h-5.6 M23.1 170.82h3.8 M308 170.82h-3.8 M23.1 165.6h5.6 M308 165.6h-5.6 M23.1 160.38h3.8 M308 160.38h-3.8 M23.1 155.15h5.6 M308 155.15h-5.6 M23.1 149.93h3.8 M308 149.93h-3.8 M23.1 144.7h5.6 M308 144.7h-5.6 M23.1 139.47h3.8 M308 139.47h-3.8 M23.1 134.25h5.6 M308 134.25h-5.6 M23.1 217.85v-5.6 M23.1 134.25v5.6 M46.84 217.85v-3.8 M46.84 134.25v3.8 M70.58 217.85v-5.6 M70.58 134.25v5.6 M94.32 217.85v-3.8 M94.32 134.25v3.8 M118.07 217.85v-5.6 M118.07 134.25v5.6 M141.81 217.85v-3.8 M141.81 134.25v3.8 M165.55 217.85v-5.6 M165.55 134.25v5.6 M189.29 217.85v-3.8 M189.29 134.25v3.8 M213.03 217.85v-5.6 M213.03 134.25v5.6 M236.77 217.85v-3.8 M236.77 134.25v3.8 M260.52 217.85v-5.6 M260.52 134.25v5.6 M284.26 217.85v-3.8 M284.26 134.25v3.8 M308 217.85v-5.6 M308 134.25v5.6" stroke="#000" stroke-width="1.5" fill="none"/>
<rect x="23.1" y="134.25" width="284.9" height="83.6" fill="none" stroke="#000" stroke-width="1.6"/>
<clipPath id="c01"><rect x="22.65" y="133.8" width="285.8" height="84.5"/></clipPath>
<clipPath id="c01l"><rect x="23.9" y="135.05" width="283.3" height="82"/></clipPath>
<path clip-path="url(#c01l)" d="M23.1 176.4 L34.97 175.56 L46.84 202.11 L58.71 203.36 L70.58 207.96 L82.45 208.59 L94.32 203.36 L106.2 195.84 L118.07 180.58 L129.94 189.98 L141.81 199.39 L153.68 196.25 L165.55 204.61 L177.42 206.08 L189.29 207.75 L201.16 210.26 L213.03 203.15 L224.9 199.39 L236.77 196.25 L248.65 178.49 L260.52 183.09 L272.39 175.98 L284.26 199.39 L296.13 170.13 L308 178.07" stroke="#00ffff" stroke-width="1.25" fill="none" stroke-linejoin="round"/>
<path clip-path="url(#c01)" d="M20.4 176.4h5.4 M23.1 173.7v5.4 M20.4 173.7l5.4 5.4 M20.4 179.1l5.4 -5.4 M32.27 175.56h5.4 M34.97 172.86v5.4 M32.27 172.86l5.4 5.4 M32.27 178.26l5.4 -5.4 M44.14 202.11h5.4 M46.84 199.41v5.4 M44.14 199.41l5.4 5.4 M44.14 204.81l5.4 -5.4 M56.01 203.36h5.4 M58.71 200.66v5.4 M56.01 200.66l5.4 5.4 M56.01 206.06l5.4 -5.4 M67.88 207.96h5.4 M70.58 205.26v5.4 M67.88 205.26l5.4 5.4 M67.88 210.66l5.4 -5.4 M79.75 208.59h5.4 M82.45 205.89v5.4 M79.75 205.89l5.4 5.4 M79.75 211.29l5.4 -5.4 M91.62 203.36h5.4 M94.32 200.66v5.4 M91.62 200.66l5.4 5.4 M91.62 206.06l5.4 -5.4 M103.5 195.84h5.4 M106.2 193.14v5.4 M103.5 193.14l5.4 5.4 M103.5 198.54l5.4 -5.4 M115.37 180.58h5.4 M118.07 177.88v5.4 M115.37 177.88l5.4 5.4 M115.37 183.28l5.4 -5.4 M127.24 189.98h5.4 M129.94 187.28v5.4 M127.24 187.28l5.4 5.4 M127.24 192.68l5.4 -5.4 M139.11 199.39h5.4 M141.81 196.69v5.4 M139.11 196.69l5.4 5.4 M139.11 202.09l5.4 -5.4 M150.98 196.25h5.4 M153.68 193.56v5.4 M150.98 193.56l5.4 5.4 M150.98 198.95l5.4 -5.4 M162.85 204.61h5.4 M165.55 201.91v5.4 M162.85 201.91l5.4 5.4 M162.85 207.31l5.4 -5.4 M174.72 206.08h5.4 M177.42 203.38v5.4 M174.72 203.38l5.4 5.4 M174.72 208.78l5.4 -5.4 M186.59 207.75h5.4 M189.29 205.05v5.4 M186.59 205.05l5.4 5.4 M186.59 210.45l5.4 -5.4 M198.46 210.26h5.4 M201.16 207.56v5.4 M198.46 207.56l5.4 5.4 M198.46 212.96l5.4 -5.4 M210.33 203.15h5.4 M213.03 200.45v5.4 M210.33 200.45l5.4 5.4 M210.33 205.85l5.4 -5.4 M222.2 199.39h5.4 M224.9 196.69v5.4 M222.2 196.69l5.4 5.4 M222.2 202.09l5.4 -5.4 M234.07 196.25h5.4 M236.77 193.56v5.4 M234.07 193.56l5.4 5.4 M234.07 198.95l5.4 -5.4 M245.95 178.49h5.4 M248.65 175.79v5.4 M245.95 175.79l5.4 5.4 M245.95 181.19l5.4 -5.4 M257.82 183.09h5.4 M260.52 180.39v5.4 M257.82 180.39l5.4 5.4 M257.82 185.79l5.4 -5.4 M269.69 175.98h5.4 M272.39 173.28v5.4 M269.69 173.28l5.4 5.4 M269.69 178.68l5.4 -5.4 M281.56 199.39h5.4 M284.26 196.69v5.4 M281.56 196.69l5.4 5.4 M281.56 202.09l5.4 -5.4 M293.43 170.13h5.4 M296.13 167.43v5.4 M293.43 167.43l5.4 5.4 M293.43 172.83l5.4 -5.4 M305.3 178.07h5.4 M308 175.37v5.4 M305.3 175.37l5.4 5.4 M305.3 180.77l5.4 -5.4" stroke="#00ffff" stroke-width="1.15" fill="none"/>
<path clip-path="url(#c01l)" d="M23.1 177.24 L46.84 188.52 L58.71 209 L70.58 210.05 L82.45 214.65 L94.32 214.23 L106.2 203.99 L118.07 178.49 L129.94 167.62 L141.81 178.49 L153.68 171.17 L165.55 157.17 L177.42 169.09 L189.29 182.25 L236.77 141.91 L248.65 155.08 L260.52 165.95 L272.39 152.99 L284.26 152.99 L296.13 165.95 L308 174.73" stroke="#00ff00" stroke-width="1.25" fill="none" stroke-linejoin="round"/>
<path clip-path="url(#c01)" d="M20.4 177.24h5.4 M23.1 174.54v5.4 M20.4 174.54l5.4 5.4 M20.4 179.94l5.4 -5.4 M44.14 188.52h5.4 M46.84 185.82v5.4 M44.14 185.82l5.4 5.4 M44.14 191.22l5.4 -5.4 M56.01 209h5.4 M58.71 206.3v5.4 M56.01 206.3l5.4 5.4 M56.01 211.7l5.4 -5.4 M67.88 210.05h5.4 M70.58 207.35v5.4 M67.88 207.35l5.4 5.4 M67.88 212.75l5.4 -5.4 M79.75 214.65h5.4 M82.45 211.95v5.4 M79.75 211.95l5.4 5.4 M79.75 217.35l5.4 -5.4 M91.62 214.23h5.4 M94.32 211.53v5.4 M91.62 211.53l5.4 5.4 M91.62 216.93l5.4 -5.4 M103.5 203.99h5.4 M106.2 201.29v5.4 M103.5 201.29l5.4 5.4 M103.5 206.69l5.4 -5.4 M115.37 178.49h5.4 M118.07 175.79v5.4 M115.37 175.79l5.4 5.4 M115.37 181.19l5.4 -5.4 M127.24 167.62h5.4 M129.94 164.92v5.4 M127.24 164.92l5.4 5.4 M127.24 170.32l5.4 -5.4 M139.11 178.49h5.4 M141.81 175.79v5.4 M139.11 175.79l5.4 5.4 M139.11 181.19l5.4 -5.4 M150.98 171.17h5.4 M153.68 168.47v5.4 M150.98 168.47l5.4 5.4 M150.98 173.87l5.4 -5.4 M162.85 157.17h5.4 M165.55 154.47v5.4 M162.85 154.47l5.4 5.4 M162.85 159.87l5.4 -5.4 M174.72 169.09h5.4 M177.42 166.39v5.4 M174.72 166.39l5.4 5.4 M174.72 171.78l5.4 -5.4 M186.59 182.25h5.4 M189.29 179.55v5.4 M186.59 179.55l5.4 5.4 M186.59 184.95l5.4 -5.4 M234.07 141.91h5.4 M236.77 139.22v5.4 M234.07 139.22l5.4 5.4 M234.07 144.61l5.4 -5.4 M245.95 155.08h5.4 M248.65 152.38v5.4 M245.95 152.38l5.4 5.4 M245.95 157.78l5.4 -5.4 M257.82 165.95h5.4 M260.52 163.25v5.4 M257.82 163.25l5.4 5.4 M257.82 168.65l5.4 -5.4 M269.69 152.99h5.4 M272.39 150.29v5.4 M269.69 150.29l5.4 5.4 M269.69 155.69l5.4 -5.4 M281.56 152.99h5.4 M284.26 150.29v5.4 M281.56 150.29l5.4 5.4 M281.56 155.69l5.4 -5.4 M293.43 165.95h5.4 M296.13 163.25v5.4 M293.43 163.25l5.4 5.4 M293.43 168.65l5.4 -5.4 M305.3 174.73h5.4 M308 172.03v5.4 M305.3 172.03l5.4 5.4 M305.3 177.43l5.4 -5.4" stroke="#00ff00" stroke-width="1.15" fill="none"/>
<path clip-path="url(#c01l)" d="M23.1 175.77 L34.97 174.31 L46.84 174.31 L58.71 171.17 L70.58 171.17 L82.45 175.35 L94.32 178.49 L106.2 182.04 L118.07 182.04 L129.94 182.25 L141.81 182.67 L153.68 180.16 L165.55 174.73 L177.42 164.91 L189.29 163.86 L201.16 165.95 L213.03 160.1 L224.9 149.23 L236.77 146.09 L248.65 148.18 L260.52 157.17 L272.39 167.62 L284.26 166.99 L296.13 176.82 L308 180.58" stroke="#0000ff" stroke-width="1.25" fill="none" stroke-linejoin="round"/>
<path clip-path="url(#c01)" d="M20.4 175.77h5.4 M23.1 173.07v5.4 M20.4 173.07l5.4 5.4 M20.4 178.47l5.4 -5.4 M32.27 174.31h5.4 M34.97 171.61v5.4 M32.27 171.61l5.4 5.4 M32.27 177.01l5.4 -5.4 M44.14 174.31h5.4 M46.84 171.61v5.4 M44.14 171.61l5.4 5.4 M44.14 177.01l5.4 -5.4 M56.01 171.17h5.4 M58.71 168.47v5.4 M56.01 168.47l5.4 5.4 M56.01 173.87l5.4 -5.4 M67.88 171.17h5.4 M70.58 168.47v5.4 M67.88 168.47l5.4 5.4 M67.88 173.87l5.4 -5.4 M79.75 175.35h5.4 M82.45 172.66v5.4 M79.75 172.66l5.4 5.4 M79.75 178.05l5.4 -5.4 M91.62 178.49h5.4 M94.32 175.79v5.4 M91.62 175.79l5.4 5.4 M91.62 181.19l5.4 -5.4 M103.5 182.04h5.4 M106.2 179.34v5.4 M103.5 179.34l5.4 5.4 M103.5 184.74l5.4 -5.4 M115.37 182.04h5.4 M118.07 179.34v5.4 M115.37 179.34l5.4 5.4 M115.37 184.74l5.4 -5.4 M127.24 182.25h5.4 M129.94 179.55v5.4 M127.24 179.55l5.4 5.4 M127.24 184.95l5.4 -5.4 M139.11 182.67h5.4 M141.81 179.97v5.4 M139.11 179.97l5.4 5.4 M139.11 185.37l5.4 -5.4 M150.98 180.16h5.4 M153.68 177.46v5.4 M150.98 177.46l5.4 5.4 M150.98 182.86l5.4 -5.4 M162.85 174.73h5.4 M165.55 172.03v5.4 M162.85 172.03l5.4 5.4 M162.85 177.43l5.4 -5.4 M174.72 164.91h5.4 M177.42 162.21v5.4 M174.72 162.21l5.4 5.4 M174.72 167.6l5.4 -5.4 M186.59 163.86h5.4 M189.29 161.16v5.4 M186.59 161.16l5.4 5.4 M186.59 166.56l5.4 -5.4 M198.46 165.95h5.4 M201.16 163.25v5.4 M198.46 163.25l5.4 5.4 M198.46 168.65l5.4 -5.4 M210.33 160.1h5.4 M213.03 157.4v5.4 M210.33 157.4l5.4 5.4 M210.33 162.8l5.4 -5.4 M222.2 149.23h5.4 M224.9 146.53v5.4 M222.2 146.53l5.4 5.4 M222.2 151.93l5.4 -5.4 M234.07 146.09h5.4 M236.77 143.4v5.4 M234.07 143.4l5.4 5.4 M234.07 148.79l5.4 -5.4 M245.95 148.18h5.4 M248.65 145.48v5.4 M245.95 145.48l5.4 5.4 M245.95 150.88l5.4 -5.4 M257.82 157.17h5.4 M260.52 154.47v5.4 M257.82 154.47l5.4 5.4 M257.82 159.87l5.4 -5.4 M269.69 167.62h5.4 M272.39 164.92v5.4 M269.69 164.92l5.4 5.4 M269.69 170.32l5.4 -5.4 M281.56 166.99h5.4 M284.26 164.29v5.4 M281.56 164.29l5.4 5.4 M281.56 169.69l5.4 -5.4 M293.43 176.82h5.4 M296.13 174.12v5.4 M293.43 174.12l5.4 5.4 M293.43 179.52l5.4 -5.4 M305.3 180.58h5.4 M308 177.88v5.4 M305.3 177.88l5.4 5.4 M305.3 183.28l5.4 -5.4" stroke="#0000ff" stroke-width="1.15" fill="none"/>
<path clip-path="url(#c01l)" d="M23.1 179.74 L58.71 200.85 L70.58 203.99 L82.45 203.99 L94.32 202.94 L106.2 200.44 L118.07 195.63 L129.94 182.25 L141.81 195.63 L153.68 192.07 L165.55 194.79 L177.42 196.25 L189.29 175.35 L201.16 178.91 L213.03 181.62 L224.9 178.91 L236.77 178.91 L248.65 177.44 L260.52 172.64 L272.39 165.95 L284.26 166.99 L296.13 174.73 L308 181.62" stroke="#ff0000" stroke-width="1.25" fill="none" stroke-linejoin="round"/>
<path clip-path="url(#c01)" d="M20.4 179.74h5.4 M23.1 177.04v5.4 M20.4 177.04l5.4 5.4 M20.4 182.44l5.4 -5.4 M56.01 200.85h5.4 M58.71 198.15v5.4 M56.01 198.15l5.4 5.4 M56.01 203.55l5.4 -5.4 M67.88 203.99h5.4 M70.58 201.29v5.4 M67.88 201.29l5.4 5.4 M67.88 206.69l5.4 -5.4 M79.75 203.99h5.4 M82.45 201.29v5.4 M79.75 201.29l5.4 5.4 M79.75 206.69l5.4 -5.4 M91.62 202.94h5.4 M94.32 200.24v5.4 M91.62 200.24l5.4 5.4 M91.62 205.64l5.4 -5.4 M103.5 200.44h5.4 M106.2 197.74v5.4 M103.5 197.74l5.4 5.4 M103.5 203.13l5.4 -5.4 M115.37 195.63h5.4 M118.07 192.93v5.4 M115.37 192.93l5.4 5.4 M115.37 198.33l5.4 -5.4 M127.24 182.25h5.4 M129.94 179.55v5.4 M127.24 179.55l5.4 5.4 M127.24 184.95l5.4 -5.4 M139.11 195.63h5.4 M141.81 192.93v5.4 M139.11 192.93l5.4 5.4 M139.11 198.33l5.4 -5.4 M150.98 192.07h5.4 M153.68 189.38v5.4 M150.98 189.38l5.4 5.4 M150.98 194.77l5.4 -5.4 M162.85 194.79h5.4 M165.55 192.09v5.4 M162.85 192.09l5.4 5.4 M162.85 197.49l5.4 -5.4 M174.72 196.25h5.4 M177.42 193.56v5.4 M174.72 193.56l5.4 5.4 M174.72 198.95l5.4 -5.4 M186.59 175.35h5.4 M189.29 172.66v5.4 M186.59 172.66l5.4 5.4 M186.59 178.05l5.4 -5.4 M198.46 178.91h5.4 M201.16 176.21v5.4 M198.46 176.21l5.4 5.4 M198.46 181.61l5.4 -5.4 M210.33 181.62h5.4 M213.03 178.92v5.4 M210.33 178.92l5.4 5.4 M210.33 184.32l5.4 -5.4 M222.2 178.91h5.4 M224.9 176.21v5.4 M222.2 176.21l5.4 5.4 M222.2 181.61l5.4 -5.4 M234.07 178.91h5.4 M236.77 176.21v5.4 M234.07 176.21l5.4 5.4 M234.07 181.61l5.4 -5.4 M245.95 177.44h5.4 M248.65 174.75v5.4 M245.95 174.75l5.4 5.4 M245.95 180.14l5.4 -5.4 M257.82 172.64h5.4 M260.52 169.94v5.4 M257.82 169.94l5.4 5.4 M257.82 175.34l5.4 -5.4 M269.69 165.95h5.4 M272.39 163.25v5.4 M269.69 163.25l5.4 5.4 M269.69 168.65l5.4 -5.4 M281.56 166.99h5.4 M284.26 164.29v5.4 M281.56 164.29l5.4 5.4 M281.56 169.69l5.4 -5.4 M293.43 174.73h5.4 M296.13 172.03v5.4 M293.43 172.03l5.4 5.4 M293.43 177.43l5.4 -5.4 M305.3 181.62h5.4 M308 178.92v5.4 M305.3 178.92l5.4 5.4 M305.3 184.32l5.4 -5.4" stroke="#ff0000" stroke-width="1.15" fill="none"/>
<path d="M23.1 207.4H308 M23.1 196.95H308 M23.1 186.5H308 M23.1 176.05H308 M23.1 165.6H308 M23.1 155.15H308 M23.1 144.7H308" stroke="#000" stroke-width="1.3" stroke-dasharray="1.3 1.8175" stroke-dashoffset="2.1335" stroke-opacity="0.9" fill="none"/><path d="M70.58 134.25V217.85 M118.07 134.25V217.85 M165.55 134.25V217.85 M213.03 134.25V217.85 M260.52 134.25V217.85" stroke="#000" stroke-width="1.3" stroke-dasharray="1.3 1.8175" stroke-dashoffset="1.9475" stroke-opacity="0.9" fill="none"/>
<text class="n" transform="translate(18.2 220.65) scale(1.1 1)" text-anchor="end">5</text>
<text class="n" transform="translate(18.2 210.2) scale(1.1 1)" text-anchor="end">10</text>
<text class="n" transform="translate(18.2 199.75) scale(1.1 1)" text-anchor="end">15</text>
<text class="n" transform="translate(18.2 189.3) scale(1.1 1)" text-anchor="end">20</text>
<text class="n" transform="translate(18.2 178.85) scale(1.1 1)" text-anchor="end">25</text>
<text class="n" transform="translate(18.2 168.4) scale(1.1 1)" text-anchor="end">30</text>
<text class="n" transform="translate(18.2 157.95) scale(1.1 1)" text-anchor="end">35</text>
<text class="n" transform="translate(18.2 147.5) scale(1.1 1)" text-anchor="end">40</text>
<text class="n" transform="translate(18.2 137.05) scale(1.1 1)" text-anchor="end">45</text>
<text class="n" transform="translate(23.1 228.85) scale(1.1 1)" text-anchor="middle">0</text>
<text class="n" transform="translate(70.58 228.85) scale(1.1 1)" text-anchor="middle">4</text>
<text class="n" transform="translate(118.07 228.85) scale(1.1 1)" text-anchor="middle">8</text>
<text class="n" transform="translate(165.55 228.85) scale(1.1 1)" text-anchor="middle">12</text>
<text class="n" transform="translate(213.03 228.85) scale(1.1 1)" text-anchor="middle">16</text>
<text class="n" transform="translate(260.52 228.85) scale(1.1 1)" text-anchor="middle">20</text>
<text class="n" transform="translate(308 228.85) scale(1.1 1)" text-anchor="middle">24</text>
<text class="t" x="266.1" y="130.7" textLength="16.7" lengthAdjust="spacingAndGlyphs">NO2</text>
<text class="t" x="286.1" y="130.7" textLength="23" lengthAdjust="spacingAndGlyphs">(ppb)</text>
<path d="M348.1 217.85h5.6 M633 217.85h-5.6 M348.1 210.88h3.8 M633 210.88h-3.8 M348.1 203.92h5.6 M633 203.92h-5.6 M348.1 196.95h3.8 M633 196.95h-3.8 M348.1 189.98h5.6 M633 189.98h-5.6 M348.1 183.02h3.8 M633 183.02h-3.8 M348.1 176.05h5.6 M633 176.05h-5.6 M348.1 169.08h3.8 M633 169.08h-3.8 M348.1 162.12h5.6 M633 162.12h-5.6 M348.1 155.15h3.8 M633 155.15h-3.8 M348.1 148.18h5.6 M633 148.18h-5.6 M348.1 141.22h3.8 M633 141.22h-3.8 M348.1 134.25h5.6 M633 134.25h-5.6 M348.1 217.85v-5.6 M348.1 134.25v5.6 M371.84 217.85v-3.8 M371.84 134.25v3.8 M395.58 217.85v-5.6 M395.58 134.25v5.6 M419.33 217.85v-3.8 M419.33 134.25v3.8 M443.07 217.85v-5.6 M443.07 134.25v5.6 M466.81 217.85v-3.8 M466.81 134.25v3.8 M490.55 217.85v-5.6 M490.55 134.25v5.6 M514.29 217.85v-3.8 M514.29 134.25v3.8 M538.03 217.85v-5.6 M538.03 134.25v5.6 M561.77 217.85v-3.8 M561.77 134.25v3.8 M585.52 217.85v-5.6 M585.52 134.25v5.6 M609.26 217.85v-3.8 M609.26 134.25v3.8 M633 217.85v-5.6 M633 134.25v5.6" stroke="#000" stroke-width="1.5" fill="none"/>
<rect x="348.1" y="134.25" width="284.9" height="83.6" fill="none" stroke="#000" stroke-width="1.6"/>
<clipPath id="c11"><rect x="347.65" y="133.8" width="285.8" height="84.5"/></clipPath>
<clipPath id="c11l"><rect x="348.9" y="135.05" width="283.3" height="82"/></clipPath>
<path clip-path="url(#c11l)" d="M348.1 204.27 L359.97 204.27 L371.84 202.18 L383.71 191.31 L395.58 200.78 L407.45 211.23 L419.33 209.14 L431.2 206.5 L443.07 195.49 L454.94 198 L466.81 193.4 L478.68 191.31 L490.55 183.37 L502.42 173.47 L514.29 181.83 L526.16 194.51 L538.03 198.69 L549.9 191.31 L561.77 194.51 L573.65 190.33 L585.52 195.91 L597.39 199.67 L609.26 207.75 L621.13 208.59 L633 207.05" stroke="#00ffff" stroke-width="1.25" fill="none" stroke-linejoin="round"/>
<path clip-path="url(#c11)" d="M345.4 204.27h5.4 M348.1 201.57v5.4 M345.4 201.57l5.4 5.4 M345.4 206.97l5.4 -5.4 M357.27 204.27h5.4 M359.97 201.57v5.4 M357.27 201.57l5.4 5.4 M357.27 206.97l5.4 -5.4 M369.14 202.18h5.4 M371.84 199.48v5.4 M369.14 199.48l5.4 5.4 M369.14 204.88l5.4 -5.4 M381.01 191.31h5.4 M383.71 188.61v5.4 M381.01 188.61l5.4 5.4 M381.01 194.01l5.4 -5.4 M392.88 200.78h5.4 M395.58 198.08v5.4 M392.88 198.08l5.4 5.4 M392.88 203.48l5.4 -5.4 M404.75 211.23h5.4 M407.45 208.53v5.4 M404.75 208.53l5.4 5.4 M404.75 213.93l5.4 -5.4 M416.63 209.14h5.4 M419.33 206.44v5.4 M416.63 206.44l5.4 5.4 M416.63 211.84l5.4 -5.4 M428.5 206.5h5.4 M431.2 203.8v5.4 M428.5 203.8l5.4 5.4 M428.5 209.2l5.4 -5.4 M440.37 195.49h5.4 M443.07 192.79v5.4 M440.37 192.79l5.4 5.4 M440.37 198.19l5.4 -5.4 M452.24 198h5.4 M454.94 195.3v5.4 M452.24 195.3l5.4 5.4 M452.24 200.7l5.4 -5.4 M464.11 193.4h5.4 M466.81 190.7v5.4 M464.11 190.7l5.4 5.4 M464.11 196.1l5.4 -5.4 M475.98 191.31h5.4 M478.68 188.61v5.4 M475.98 188.61l5.4 5.4 M475.98 194.01l5.4 -5.4 M487.85 183.37h5.4 M490.55 180.67v5.4 M487.85 180.67l5.4 5.4 M487.85 186.07l5.4 -5.4 M499.72 173.47h5.4 M502.42 170.77v5.4 M499.72 170.77l5.4 5.4 M499.72 176.17l5.4 -5.4 M511.59 181.83h5.4 M514.29 179.13v5.4 M511.59 179.13l5.4 5.4 M511.59 184.53l5.4 -5.4 M523.46 194.51h5.4 M526.16 191.81v5.4 M523.46 191.81l5.4 5.4 M523.46 197.21l5.4 -5.4 M535.33 198.69h5.4 M538.03 195.99v5.4 M535.33 195.99l5.4 5.4 M535.33 201.39l5.4 -5.4 M547.2 191.31h5.4 M549.9 188.61v5.4 M547.2 188.61l5.4 5.4 M547.2 194.01l5.4 -5.4 M559.07 194.51h5.4 M561.77 191.81v5.4 M559.07 191.81l5.4 5.4 M559.07 197.21l5.4 -5.4 M570.95 190.33h5.4 M573.65 187.63v5.4 M570.95 187.63l5.4 5.4 M570.95 193.03l5.4 -5.4 M582.82 195.91h5.4 M585.52 193.21v5.4 M582.82 193.21l5.4 5.4 M582.82 198.61l5.4 -5.4 M594.69 199.67h5.4 M597.39 196.97v5.4 M594.69 196.97l5.4 5.4 M594.69 202.37l5.4 -5.4 M606.56 207.75h5.4 M609.26 205.05v5.4 M606.56 205.05l5.4 5.4 M606.56 210.45l5.4 -5.4 M618.43 208.59h5.4 M621.13 205.89v5.4 M618.43 205.89l5.4 5.4 M618.43 211.29l5.4 -5.4 M630.3 207.05h5.4 M633 204.35v5.4 M630.3 204.35l5.4 5.4 M630.3 209.75l5.4 -5.4" stroke="#00ffff" stroke-width="1.15" fill="none"/>
<path clip-path="url(#c11l)" d="M348.1 206.08 L359.97 214.44 L371.84 216.11 L383.71 214.44 L395.58 214.44 L407.45 212.35 L419.33 207.05 L431.2 212.35 L443.07 212.35 L454.94 212.35 L466.81 198.69 L478.68 192.42 L490.55 187.13 L502.42 187.13 L514.29 187.13 L526.16 189.22 L538.03 190.89 L549.9 178.77 L561.77 160.79 L573.65 155.22 L585.52 159.82 L597.39 146.72 L609.26 136.27 L621.13 152.43 L633 170.27" stroke="#00ff00" stroke-width="1.25" fill="none" stroke-linejoin="round"/>
<path clip-path="url(#c11)" d="M345.4 206.08h5.4 M348.1 203.38v5.4 M345.4 203.38l5.4 5.4 M345.4 208.78l5.4 -5.4 M357.27 214.44h5.4 M359.97 211.74v5.4 M357.27 211.74l5.4 5.4 M357.27 217.14l5.4 -5.4 M369.14 216.11h5.4 M371.84 213.41v5.4 M369.14 213.41l5.4 5.4 M369.14 218.81l5.4 -5.4 M381.01 214.44h5.4 M383.71 211.74v5.4 M381.01 211.74l5.4 5.4 M381.01 217.14l5.4 -5.4 M392.88 214.44h5.4 M395.58 211.74v5.4 M392.88 211.74l5.4 5.4 M392.88 217.14l5.4 -5.4 M404.75 212.35h5.4 M407.45 209.65v5.4 M404.75 209.65l5.4 5.4 M404.75 215.05l5.4 -5.4 M416.63 207.05h5.4 M419.33 204.35v5.4 M416.63 204.35l5.4 5.4 M416.63 209.75l5.4 -5.4 M428.5 212.35h5.4 M431.2 209.65v5.4 M428.5 209.65l5.4 5.4 M428.5 215.05l5.4 -5.4 M440.37 212.35h5.4 M443.07 209.65v5.4 M440.37 209.65l5.4 5.4 M440.37 215.05l5.4 -5.4 M452.24 212.35h5.4 M454.94 209.65v5.4 M452.24 209.65l5.4 5.4 M452.24 215.05l5.4 -5.4 M464.11 198.69h5.4 M466.81 195.99v5.4 M464.11 195.99l5.4 5.4 M464.11 201.39l5.4 -5.4 M475.98 192.42h5.4 M478.68 189.72v5.4 M475.98 189.72l5.4 5.4 M475.98 195.12l5.4 -5.4 M487.85 187.13h5.4 M490.55 184.43v5.4 M487.85 184.43l5.4 5.4 M487.85 189.83l5.4 -5.4 M499.72 187.13h5.4 M502.42 184.43v5.4 M499.72 184.43l5.4 5.4 M499.72 189.83l5.4 -5.4 M511.59 187.13h5.4 M514.29 184.43v5.4 M511.59 184.43l5.4 5.4 M511.59 189.83l5.4 -5.4 M523.46 189.22h5.4 M526.16 186.52v5.4 M523.46 186.52l5.4 5.4 M523.46 191.92l5.4 -5.4 M535.33 190.89h5.4 M538.03 188.19v5.4 M535.33 188.19l5.4 5.4 M535.33 193.59l5.4 -5.4 M547.2 178.77h5.4 M549.9 176.07v5.4 M547.2 176.07l5.4 5.4 M547.2 181.47l5.4 -5.4 M559.07 160.79h5.4 M561.77 158.09v5.4 M559.07 158.09l5.4 5.4 M559.07 163.49l5.4 -5.4 M570.95 155.22h5.4 M573.65 152.52v5.4 M570.95 152.52l5.4 5.4 M570.95 157.92l5.4 -5.4 M582.82 159.82h5.4 M585.52 157.12v5.4 M582.82 157.12l5.4 5.4 M582.82 162.52l5.4 -5.4 M594.69 146.72h5.4 M597.39 144.02v5.4 M594.69 144.02l5.4 5.4 M594.69 149.42l5.4 -5.4 M606.56 136.27h5.4 M609.26 133.57v5.4 M606.56 133.57l5.4 5.4 M606.56 138.97l5.4 -5.4 M618.43 152.43h5.4 M621.13 149.73v5.4 M618.43 149.73l5.4 5.4 M618.43 155.13l5.4 -5.4 M630.3 170.27h5.4 M633 167.57v5.4 M630.3 167.57l5.4 5.4 M630.3 172.97l5.4 -5.4" stroke="#00ff00" stroke-width="1.15" fill="none"/>
<path clip-path="url(#c11l)" d="M348.1 170.97 L359.97 173.47 L371.84 170.69 L383.71 171.94 L395.58 177.65 L407.45 189.22 L419.33 183.37 L431.2 184.62 L443.07 178.77 L454.94 177.65 L466.81 180.44 L478.68 190.33 L490.55 195.49 L502.42 185.04 L514.29 161.91 L526.16 148.25 L538.03 156.61 L549.9 159.82 L561.77 159.82 L573.65 161.91 L585.52 171.94 L597.39 178.77 L609.26 180.44 L621.13 182.95 L633 195.07" stroke="#0000ff" stroke-width="1.25" fill="none" stroke-linejoin="round"/>
<path clip-path="url(#c11)" d="M345.4 170.97h5.4 M348.1 168.27v5.4 M345.4 168.27l5.4 5.4 M345.4 173.67l5.4 -5.4 M357.27 173.47h5.4 M359.97 170.77v5.4 M357.27 170.77l5.4 5.4 M357.27 176.17l5.4 -5.4 M369.14 170.69h5.4 M371.84 167.99v5.4 M369.14 167.99l5.4 5.4 M369.14 173.39l5.4 -5.4 M381.01 171.94h5.4 M383.71 169.24v5.4 M381.01 169.24l5.4 5.4 M381.01 174.64l5.4 -5.4 M392.88 177.65h5.4 M395.58 174.95v5.4 M392.88 174.95l5.4 5.4 M392.88 180.35l5.4 -5.4 M404.75 189.22h5.4 M407.45 186.52v5.4 M404.75 186.52l5.4 5.4 M404.75 191.92l5.4 -5.4 M416.63 183.37h5.4 M419.33 180.67v5.4 M416.63 180.67l5.4 5.4 M416.63 186.07l5.4 -5.4 M428.5 184.62h5.4 M431.2 181.92v5.4 M428.5 181.92l5.4 5.4 M428.5 187.32l5.4 -5.4 M440.37 178.77h5.4 M443.07 176.07v5.4 M440.37 176.07l5.4 5.4 M440.37 181.47l5.4 -5.4 M452.24 177.65h5.4 M454.94 174.95v5.4 M452.24 174.95l5.4 5.4 M452.24 180.35l5.4 -5.4 M464.11 180.44h5.4 M466.81 177.74v5.4 M464.11 177.74l5.4 5.4 M464.11 183.14l5.4 -5.4 M475.98 190.33h5.4 M478.68 187.63v5.4 M475.98 187.63l5.4 5.4 M475.98 193.03l5.4 -5.4 M487.85 195.49h5.4 M490.55 192.79v5.4 M487.85 192.79l5.4 5.4 M487.85 198.19l5.4 -5.4 M499.72 185.04h5.4 M502.42 182.34v5.4 M499.72 182.34l5.4 5.4 M499.72 187.74l5.4 -5.4 M511.59 161.91h5.4 M514.29 159.21v5.4 M511.59 159.21l5.4 5.4 M511.59 164.61l5.4 -5.4 M523.46 148.25h5.4 M526.16 145.55v5.4 M523.46 145.55l5.4 5.4 M523.46 150.95l5.4 -5.4 M535.33 156.61h5.4 M538.03 153.91v5.4 M535.33 153.91l5.4 5.4 M535.33 159.31l5.4 -5.4 M547.2 159.82h5.4 M549.9 157.12v5.4 M547.2 157.12l5.4 5.4 M547.2 162.52l5.4 -5.4 M559.07 159.82h5.4 M561.77 157.12v5.4 M559.07 157.12l5.4 5.4 M559.07 162.52l5.4 -5.4 M570.95 161.91h5.4 M573.65 159.21v5.4 M570.95 159.21l5.4 5.4 M570.95 164.61l5.4 -5.4 M582.82 171.94h5.4 M585.52 169.24v5.4 M582.82 169.24l5.4 5.4 M582.82 174.64l5.4 -5.4 M594.69 178.77h5.4 M597.39 176.07v5.4 M594.69 176.07l5.4 5.4 M594.69 181.47l5.4 -5.4 M606.56 180.44h5.4 M609.26 177.74v5.4 M606.56 177.74l5.4 5.4 M606.56 183.14l5.4 -5.4 M618.43 182.95h5.4 M621.13 180.25v5.4 M618.43 180.25l5.4 5.4 M618.43 185.65l5.4 -5.4 M630.3 195.07h5.4 M633 192.37v5.4 M630.3 192.37l5.4 5.4 M630.3 197.77l5.4 -5.4" stroke="#0000ff" stroke-width="1.15" fill="none"/>
<path clip-path="url(#c11l)" d="M348.1 193.82 L359.97 200.78 L371.84 207.05 L383.71 208.17 L395.58 209.14 L407.45 211.93 L419.33 212.35 L431.2 209.14 L443.07 207.05 L454.94 203.57 L466.81 214.44 L478.68 214.44 L490.55 214.02 L502.42 214.86 L514.29 202.18 L526.16 186.01 L538.03 187.13 L549.9 184.62 L561.77 187.55 L573.65 198.69 L585.52 202.18 L597.39 201.48 L609.26 207.05 L621.13 211.23 L633 212.35" stroke="#ff0000" stroke-width="1.25" fill="none" stroke-linejoin="round"/>
<path clip-path="url(#c11)" d="M345.4 193.82h5.4 M348.1 191.12v5.4 M345.4 191.12l5.4 5.4 M345.4 196.52l5.4 -5.4 M357.27 200.78h5.4 M359.97 198.08v5.4 M357.27 198.08l5.4 5.4 M357.27 203.48l5.4 -5.4 M369.14 207.05h5.4 M371.84 204.35v5.4 M369.14 204.35l5.4 5.4 M369.14 209.75l5.4 -5.4 M381.01 208.17h5.4 M383.71 205.47v5.4 M381.01 205.47l5.4 5.4 M381.01 210.87l5.4 -5.4 M392.88 209.14h5.4 M395.58 206.44v5.4 M392.88 206.44l5.4 5.4 M392.88 211.84l5.4 -5.4 M404.75 211.93h5.4 M407.45 209.23v5.4 M404.75 209.23l5.4 5.4 M404.75 214.63l5.4 -5.4 M416.63 212.35h5.4 M419.33 209.65v5.4 M416.63 209.65l5.4 5.4 M416.63 215.05l5.4 -5.4 M428.5 209.14h5.4 M431.2 206.44v5.4 M428.5 206.44l5.4 5.4 M428.5 211.84l5.4 -5.4 M440.37 207.05h5.4 M443.07 204.35v5.4 M440.37 204.35l5.4 5.4 M440.37 209.75l5.4 -5.4 M452.24 203.57h5.4 M454.94 200.87v5.4 M452.24 200.87l5.4 5.4 M452.24 206.27l5.4 -5.4 M464.11 214.44h5.4 M466.81 211.74v5.4 M464.11 211.74l5.4 5.4 M464.11 217.14l5.4 -5.4 M475.98 214.44h5.4 M478.68 211.74v5.4 M475.98 211.74l5.4 5.4 M475.98 217.14l5.4 -5.4 M487.85 214.02h5.4 M490.55 211.32v5.4 M487.85 211.32l5.4 5.4 M487.85 216.72l5.4 -5.4 M499.72 214.86h5.4 M502.42 212.16v5.4 M499.72 212.16l5.4 5.4 M499.72 217.56l5.4 -5.4 M511.59 202.18h5.4 M514.29 199.48v5.4 M511.59 199.48l5.4 5.4 M511.59 204.88l5.4 -5.4 M523.46 186.01h5.4 M526.16 183.31v5.4 M523.46 183.31l5.4 5.4 M523.46 188.71l5.4 -5.4 M535.33 187.13h5.4 M538.03 184.43v5.4 M535.33 184.43l5.4 5.4 M535.33 189.83l5.4 -5.4 M547.2 184.62h5.4 M549.9 181.92v5.4 M547.2 181.92l5.4 5.4 M547.2 187.32l5.4 -5.4 M559.07 187.55h5.4 M561.77 184.85v5.4 M559.07 184.85l5.4 5.4 M559.07 190.25l5.4 -5.4 M570.95 198.69h5.4 M573.65 195.99v5.4 M570.95 195.99l5.4 5.4 M570.95 201.39l5.4 -5.4 M582.82 202.18h5.4 M585.52 199.48v5.4 M582.82 199.48l5.4 5.4 M582.82 204.88l5.4 -5.4 M594.69 201.48h5.4 M597.39 198.78v5.4 M594.69 198.78l5.4 5.4 M594.69 204.18l5.4 -5.4 M606.56 207.05h5.4 M609.26 204.35v5.4 M606.56 204.35l5.4 5.4 M606.56 209.75l5.4 -5.4 M618.43 211.23h5.4 M621.13 208.53v5.4 M618.43 208.53l5.4 5.4 M618.43 213.93l5.4 -5.4 M630.3 212.35h5.4 M633 209.65v5.4 M630.3 209.65l5.4 5.4 M630.3 215.05l5.4 -5.4" stroke="#ff0000" stroke-width="1.15" fill="none"/>
<path d="M348.1 203.92H633 M348.1 189.98H633 M348.1 176.05H633 M348.1 162.12H633 M348.1 148.18H633" stroke="#000" stroke-width="1.3" stroke-dasharray="1.3 1.8175" stroke-dashoffset="2.1335" stroke-opacity="0.9" fill="none"/><path d="M395.58 134.25V217.85 M443.07 134.25V217.85 M490.55 134.25V217.85 M538.03 134.25V217.85 M585.52 134.25V217.85" stroke="#000" stroke-width="1.3" stroke-dasharray="1.3 1.8175" stroke-dashoffset="1.9475" stroke-opacity="0.9" fill="none"/>
<text class="n" transform="translate(343.2 220.65) scale(1.1 1)" text-anchor="end">20</text>
<text class="n" transform="translate(343.2 206.72) scale(1.1 1)" text-anchor="end">30</text>
<text class="n" transform="translate(343.2 192.78) scale(1.1 1)" text-anchor="end">40</text>
<text class="n" transform="translate(343.2 178.85) scale(1.1 1)" text-anchor="end">50</text>
<text class="n" transform="translate(343.2 164.92) scale(1.1 1)" text-anchor="end">60</text>
<text class="n" transform="translate(343.2 150.98) scale(1.1 1)" text-anchor="end">70</text>
<text class="n" transform="translate(343.2 137.05) scale(1.1 1)" text-anchor="end">80</text>
<text class="n" transform="translate(348.1 228.85) scale(1.1 1)" text-anchor="middle">0</text>
<text class="n" transform="translate(395.58 228.85) scale(1.1 1)" text-anchor="middle">4</text>
<text class="n" transform="translate(443.07 228.85) scale(1.1 1)" text-anchor="middle">8</text>
<text class="n" transform="translate(490.55 228.85) scale(1.1 1)" text-anchor="middle">12</text>
<text class="n" transform="translate(538.03 228.85) scale(1.1 1)" text-anchor="middle">16</text>
<text class="n" transform="translate(585.52 228.85) scale(1.1 1)" text-anchor="middle">20</text>
<text class="n" transform="translate(633 228.85) scale(1.1 1)" text-anchor="middle">24</text>
<text class="t" x="577" y="130.7" textLength="16.1" lengthAdjust="spacingAndGlyphs">RSP</text>
<text class="t" x="597.1" y="130.7" textLength="36.9" lengthAdjust="spacingAndGlyphs">(ug/m3)</text>
<path d="M673.1 217.85h5.6 M958 217.85h-5.6 M673.1 211.88h3.8 M958 211.88h-3.8 M673.1 205.91h5.6 M958 205.91h-5.6 M673.1 199.94h3.8 M958 199.94h-3.8 M673.1 193.96h5.6 M958 193.96h-5.6 M673.1 187.99h3.8 M958 187.99h-3.8 M673.1 182.02h5.6 M958 182.02h-5.6 M673.1 176.05h3.8 M958 176.05h-3.8 M673.1 170.08h5.6 M958 170.08h-5.6 M673.1 164.11h3.8 M958 164.11h-3.8 M673.1 158.14h5.6 M958 158.14h-5.6 M673.1 152.16h3.8 M958 152.16h-3.8 M673.1 146.19h5.6 M958 146.19h-5.6 M673.1 140.22h3.8 M958 140.22h-3.8 M673.1 134.25h5.6 M958 134.25h-5.6 M673.1 217.85v-5.6 M673.1 134.25v5.6 M696.84 217.85v-3.8 M696.84 134.25v3.8 M720.58 217.85v-5.6 M720.58 134.25v5.6 M744.33 217.85v-3.8 M744.33 134.25v3.8 M768.07 217.85v-5.6 M768.07 134.25v5.6 M791.81 217.85v-3.8 M791.81 134.25v3.8 M815.55 217.85v-5.6 M815.55 134.25v5.6 M839.29 217.85v-3.8 M839.29 134.25v3.8 M863.03 217.85v-5.6 M863.03 134.25v5.6 M886.77 217.85v-3.8 M886.77 134.25v3.8 M910.52 217.85v-5.6 M910.52 134.25v5.6 M934.26 217.85v-3.8 M934.26 134.25v3.8 M958 217.85v-5.6 M958 134.25v5.6" stroke="#000" stroke-width="1.5" fill="none"/>
<rect x="673.1" y="134.25" width="284.9" height="83.6" fill="none" stroke="#000" stroke-width="1.6"/>
<clipPath id="c21"><rect x="672.65" y="133.8" width="285.8" height="84.5"/></clipPath>
<clipPath id="c21l"><rect x="673.9" y="135.05" width="283.3" height="82"/></clipPath>
<path clip-path="url(#c21l)" d="M673.1 199.33 L684.97 194.55 L696.84 196.46 L708.71 186.67 L720.58 196.46 L732.45 206.02 L744.33 201.72 L756.2 201.72 L768.07 187.15 L779.94 191.21 L791.81 187.15 L803.68 189.54 L815.55 177.59 L827.42 165.65 L839.29 172.34 L851.16 184.52 L863.03 189.3 L874.9 182.61 L886.77 185.95 L898.65 179.03 L910.52 184.52 L922.39 189.3 L934.26 198.61 L946.13 196.46 L958 193.84" stroke="#00ffff" stroke-width="1.25" fill="none" stroke-linejoin="round"/>
<path clip-path="url(#c21)" d="M670.4 199.33h5.4 M673.1 196.63v5.4 M670.4 196.63l5.4 5.4 M670.4 202.03l5.4 -5.4 M682.27 194.55h5.4 M684.97 191.85v5.4 M682.27 191.85l5.4 5.4 M682.27 197.25l5.4 -5.4 M694.14 196.46h5.4 M696.84 193.76v5.4 M694.14 193.76l5.4 5.4 M694.14 199.16l5.4 -5.4 M706.01 186.67h5.4 M708.71 183.97v5.4 M706.01 183.97l5.4 5.4 M706.01 189.37l5.4 -5.4 M717.88 196.46h5.4 M720.58 193.76v5.4 M717.88 193.76l5.4 5.4 M717.88 199.16l5.4 -5.4 M729.75 206.02h5.4 M732.45 203.32v5.4 M729.75 203.32l5.4 5.4 M729.75 208.72l5.4 -5.4 M741.62 201.72h5.4 M744.33 199.02v5.4 M741.62 199.02l5.4 5.4 M741.62 204.42l5.4 -5.4 M753.5 201.72h5.4 M756.2 199.02v5.4 M753.5 199.02l5.4 5.4 M753.5 204.42l5.4 -5.4 M765.37 187.15h5.4 M768.07 184.45v5.4 M765.37 184.45l5.4 5.4 M765.37 189.85l5.4 -5.4 M777.24 191.21h5.4 M779.94 188.51v5.4 M777.24 188.51l5.4 5.4 M777.24 193.91l5.4 -5.4 M789.11 187.15h5.4 M791.81 184.45v5.4 M789.11 184.45l5.4 5.4 M789.11 189.85l5.4 -5.4 M800.98 189.54h5.4 M803.68 186.84v5.4 M800.98 186.84l5.4 5.4 M800.98 192.24l5.4 -5.4 M812.85 177.59h5.4 M815.55 174.89v5.4 M812.85 174.89l5.4 5.4 M812.85 180.29l5.4 -5.4 M824.72 165.65h5.4 M827.42 162.95v5.4 M824.72 162.95l5.4 5.4 M824.72 168.35l5.4 -5.4 M836.59 172.34h5.4 M839.29 169.64v5.4 M836.59 169.64l5.4 5.4 M836.59 175.04l5.4 -5.4 M848.46 184.52h5.4 M851.16 181.82v5.4 M848.46 181.82l5.4 5.4 M848.46 187.22l5.4 -5.4 M860.33 189.3h5.4 M863.03 186.6v5.4 M860.33 186.6l5.4 5.4 M860.33 192l5.4 -5.4 M872.2 182.61h5.4 M874.9 179.91v5.4 M872.2 179.91l5.4 5.4 M872.2 185.31l5.4 -5.4 M884.07 185.95h5.4 M886.77 183.25v5.4 M884.07 183.25l5.4 5.4 M884.07 188.65l5.4 -5.4 M895.95 179.03h5.4 M898.65 176.33v5.4 M895.95 176.33l5.4 5.4 M895.95 181.73l5.4 -5.4 M907.82 184.52h5.4 M910.52 181.82v5.4 M907.82 181.82l5.4 5.4 M907.82 187.22l5.4 -5.4 M919.69 189.3h5.4 M922.39 186.6v5.4 M919.69 186.6l5.4 5.4 M919.69 192l5.4 -5.4 M931.56 198.61h5.4 M934.26 195.91v5.4 M931.56 195.91l5.4 5.4 M931.56 201.31l5.4 -5.4 M943.43 196.46h5.4 M946.13 193.76v5.4 M943.43 193.76l5.4 5.4 M943.43 199.16l5.4 -5.4 M955.3 193.84h5.4 M958 191.14v5.4 M955.3 191.14l5.4 5.4 M955.3 196.54l5.4 -5.4" stroke="#00ffff" stroke-width="1.15" fill="none"/>
<path clip-path="url(#c21l)" d="M673.1 193.36 L684.97 206.5 L696.84 210.56 L708.71 208.65 L720.58 206.02 L732.45 206.02 L744.33 201.48 L756.2 208.65 L768.07 203.39 L779.94 208.17 L791.81 189.3 L803.68 184.52 L815.55 178.31 L827.42 179.74 L839.29 179.74 L851.16 174.97 L863.03 177.12 L874.9 174.97 L886.77 158.25 L898.65 151.08 L910.52 151.08 L922.39 138.9 L934.26 136.75 L946.13 155.62 L958 179.74" stroke="#00ff00" stroke-width="1.25" fill="none" stroke-linejoin="round"/>
<path clip-path="url(#c21)" d="M670.4 193.36h5.4 M673.1 190.66v5.4 M670.4 190.66l5.4 5.4 M670.4 196.06l5.4 -5.4 M682.27 206.5h5.4 M684.97 203.8v5.4 M682.27 203.8l5.4 5.4 M682.27 209.2l5.4 -5.4 M694.14 210.56h5.4 M696.84 207.86v5.4 M694.14 207.86l5.4 5.4 M694.14 213.26l5.4 -5.4 M706.01 208.65h5.4 M708.71 205.95v5.4 M706.01 205.95l5.4 5.4 M706.01 211.35l5.4 -5.4 M717.88 206.02h5.4 M720.58 203.32v5.4 M717.88 203.32l5.4 5.4 M717.88 208.72l5.4 -5.4 M729.75 206.02h5.4 M732.45 203.32v5.4 M729.75 203.32l5.4 5.4 M729.75 208.72l5.4 -5.4 M741.62 201.48h5.4 M744.33 198.78v5.4 M741.62 198.78l5.4 5.4 M741.62 204.18l5.4 -5.4 M753.5 208.65h5.4 M756.2 205.95v5.4 M753.5 205.95l5.4 5.4 M753.5 211.35l5.4 -5.4 M765.37 203.39h5.4 M768.07 200.69v5.4 M765.37 200.69l5.4 5.4 M765.37 206.09l5.4 -5.4 M777.24 208.17h5.4 M779.94 205.47v5.4 M777.24 205.47l5.4 5.4 M777.24 210.87l5.4 -5.4 M789.11 189.3h5.4 M791.81 186.6v5.4 M789.11 186.6l5.4 5.4 M789.11 192l5.4 -5.4 M800.98 184.52h5.4 M803.68 181.82v5.4 M800.98 181.82l5.4 5.4 M800.98 187.22l5.4 -5.4 M812.85 178.31h5.4 M815.55 175.61v5.4 M812.85 175.61l5.4 5.4 M812.85 181.01l5.4 -5.4 M824.72 179.74h5.4 M827.42 177.04v5.4 M824.72 177.04l5.4 5.4 M824.72 182.44l5.4 -5.4 M836.59 179.74h5.4 M839.29 177.04v5.4 M836.59 177.04l5.4 5.4 M836.59 182.44l5.4 -5.4 M848.46 174.97h5.4 M851.16 172.27v5.4 M848.46 172.27l5.4 5.4 M848.46 177.67l5.4 -5.4 M860.33 177.12h5.4 M863.03 174.42v5.4 M860.33 174.42l5.4 5.4 M860.33 179.82l5.4 -5.4 M872.2 174.97h5.4 M874.9 172.27v5.4 M872.2 172.27l5.4 5.4 M872.2 177.67l5.4 -5.4 M884.07 158.25h5.4 M886.77 155.55v5.4 M884.07 155.55l5.4 5.4 M884.07 160.95l5.4 -5.4 M895.95 151.08h5.4 M898.65 148.38v5.4 M895.95 148.38l5.4 5.4 M895.95 153.78l5.4 -5.4 M907.82 151.08h5.4 M910.52 148.38v5.4 M907.82 148.38l5.4 5.4 M907.82 153.78l5.4 -5.4 M919.69 138.9h5.4 M922.39 136.2v5.4 M919.69 136.2l5.4 5.4 M919.69 141.6l5.4 -5.4 M931.56 136.75h5.4 M934.26 134.05v5.4 M931.56 134.05l5.4 5.4 M931.56 139.45l5.4 -5.4 M943.43 155.62h5.4 M946.13 152.92v5.4 M943.43 152.92l5.4 5.4 M943.43 158.32l5.4 -5.4 M955.3 179.74h5.4 M958 177.04v5.4 M955.3 177.04l5.4 5.4 M955.3 182.44l5.4 -5.4" stroke="#00ff00" stroke-width="1.15" fill="none"/>
<path clip-path="url(#c21l)" d="M673.1 179.74 L684.97 179.74 L696.84 177.59 L708.71 182.61 L720.58 184.52 L732.45 194.55 L744.33 182.61 L756.2 182.61 L768.07 170.43 L779.94 172.82 L791.81 170.43 L803.68 177.59 L815.55 182.61 L827.42 174.97 L839.29 163.02 L851.16 148.93 L863.03 153.47 L874.9 155.62 L886.77 165.65 L898.65 165.65 L910.52 174.97 L922.39 174.97 L934.26 179.74 L946.13 182.61 L958 191.21" stroke="#0000ff" stroke-width="1.25" fill="none" stroke-linejoin="round"/>
<path clip-path="url(#c21)" d="M670.4 179.74h5.4 M673.1 177.04v5.4 M670.4 177.04l5.4 5.4 M670.4 182.44l5.4 -5.4 M682.27 179.74h5.4 M684.97 177.04v5.4 M682.27 177.04l5.4 5.4 M682.27 182.44l5.4 -5.4 M694.14 177.59h5.4 M696.84 174.89v5.4 M694.14 174.89l5.4 5.4 M694.14 180.29l5.4 -5.4 M706.01 182.61h5.4 M708.71 179.91v5.4 M706.01 179.91l5.4 5.4 M706.01 185.31l5.4 -5.4 M717.88 184.52h5.4 M720.58 181.82v5.4 M717.88 181.82l5.4 5.4 M717.88 187.22l5.4 -5.4 M729.75 194.55h5.4 M732.45 191.85v5.4 M729.75 191.85l5.4 5.4 M729.75 197.25l5.4 -5.4 M741.62 182.61h5.4 M744.33 179.91v5.4 M741.62 179.91l5.4 5.4 M741.62 185.31l5.4 -5.4 M753.5 182.61h5.4 M756.2 179.91v5.4 M753.5 179.91l5.4 5.4 M753.5 185.31l5.4 -5.4 M765.37 170.43h5.4 M768.07 167.73v5.4 M765.37 167.73l5.4 5.4 M765.37 173.13l5.4 -5.4 M777.24 172.82h5.4 M779.94 170.12v5.4 M777.24 170.12l5.4 5.4 M777.24 175.52l5.4 -5.4 M789.11 170.43h5.4 M791.81 167.73v5.4 M789.11 167.73l5.4 5.4 M789.11 173.13l5.4 -5.4 M800.98 177.59h5.4 M803.68 174.89v5.4 M800.98 174.89l5.4 5.4 M800.98 180.29l5.4 -5.4 M812.85 182.61h5.4 M815.55 179.91v5.4 M812.85 179.91l5.4 5.4 M812.85 185.31l5.4 -5.4 M824.72 174.97h5.4 M827.42 172.27v5.4 M824.72 172.27l5.4 5.4 M824.72 177.67l5.4 -5.4 M836.59 163.02h5.4 M839.29 160.32v5.4 M836.59 160.32l5.4 5.4 M836.59 165.72l5.4 -5.4 M848.46 148.93h5.4 M851.16 146.23v5.4 M848.46 146.23l5.4 5.4 M848.46 151.63l5.4 -5.4 M860.33 153.47h5.4 M863.03 150.77v5.4 M860.33 150.77l5.4 5.4 M860.33 156.17l5.4 -5.4 M872.2 155.62h5.4 M874.9 152.92v5.4 M872.2 152.92l5.4 5.4 M872.2 158.32l5.4 -5.4 M884.07 165.65h5.4 M886.77 162.95v5.4 M884.07 162.95l5.4 5.4 M884.07 168.35l5.4 -5.4 M895.95 165.65h5.4 M898.65 162.95v5.4 M895.95 162.95l5.4 5.4 M895.95 168.35l5.4 -5.4 M907.82 174.97h5.4 M910.52 172.27v5.4 M907.82 172.27l5.4 5.4 M907.82 177.67l5.4 -5.4 M919.69 174.97h5.4 M922.39 172.27v5.4 M919.69 172.27l5.4 5.4 M919.69 177.67l5.4 -5.4 M931.56 179.74h5.4 M934.26 177.04v5.4 M931.56 177.04l5.4 5.4 M931.56 182.44l5.4 -5.4 M943.43 182.61h5.4 M946.13 179.91v5.4 M943.43 179.91l5.4 5.4 M943.43 185.31l5.4 -5.4 M955.3 191.21h5.4 M958 188.51v5.4 M955.3 188.51l5.4 5.4 M955.3 193.91l5.4 -5.4" stroke="#0000ff" stroke-width="1.15" fill="none"/>
<path clip-path="url(#c21l)" d="M673.1 191.21 L684.97 199.33 L696.84 203.39 L708.71 203.39 L720.58 203.39 L732.45 208.17 L744.33 208.17 L756.2 203.39 L768.07 199.33 L779.94 201.48 L791.81 213.42 L803.68 208.65 L815.55 213.42 L827.42 217.48 L839.29 206.02 L851.16 193.84 L863.03 189.3 L874.9 181.89 L886.77 184.52 L898.65 194.55 L910.52 196.46 L922.39 194.55 L934.26 206.02 L946.13 208.17 L958 210.56" stroke="#ff0000" stroke-width="1.25" fill="none" stroke-linejoin="round"/>
<path clip-path="url(#c21)" d="M670.4 191.21h5.4 M673.1 188.51v5.4 M670.4 188.51l5.4 5.4 M670.4 193.91l5.4 -5.4 M682.27 199.33h5.4 M684.97 196.63v5.4 M682.27 196.63l5.4 5.4 M682.27 202.03l5.4 -5.4 M694.14 203.39h5.4 M696.84 200.69v5.4 M694.14 200.69l5.4 5.4 M694.14 206.09l5.4 -5.4 M706.01 203.39h5.4 M708.71 200.69v5.4 M706.01 200.69l5.4 5.4 M706.01 206.09l5.4 -5.4 M717.88 203.39h5.4 M720.58 200.69v5.4 M717.88 200.69l5.4 5.4 M717.88 206.09l5.4 -5.4 M729.75 208.17h5.4 M732.45 205.47v5.4 M729.75 205.47l5.4 5.4 M729.75 210.87l5.4 -5.4 M741.62 208.17h5.4 M744.33 205.47v5.4 M741.62 205.47l5.4 5.4 M741.62 210.87l5.4 -5.4 M753.5 203.39h5.4 M756.2 200.69v5.4 M753.5 200.69l5.4 5.4 M753.5 206.09l5.4 -5.4 M765.37 199.33h5.4 M768.07 196.63v5.4 M765.37 196.63l5.4 5.4 M765.37 202.03l5.4 -5.4 M777.24 201.48h5.4 M779.94 198.78v5.4 M777.24 198.78l5.4 5.4 M777.24 204.18l5.4 -5.4 M789.11 213.42h5.4 M791.81 210.72v5.4 M789.11 210.72l5.4 5.4 M789.11 216.12l5.4 -5.4 M800.98 208.65h5.4 M803.68 205.95v5.4 M800.98 205.95l5.4 5.4 M800.98 211.35l5.4 -5.4 M812.85 213.42h5.4 M815.55 210.72v5.4 M812.85 210.72l5.4 5.4 M812.85 216.12l5.4 -5.4 M824.72 217.48h5.4 M827.42 214.78v5.4 M824.72 214.78l5.4 5.4 M824.72 220.18l5.4 -5.4 M836.59 206.02h5.4 M839.29 203.32v5.4 M836.59 203.32l5.4 5.4 M836.59 208.72l5.4 -5.4 M848.46 193.84h5.4 M851.16 191.14v5.4 M848.46 191.14l5.4 5.4 M848.46 196.54l5.4 -5.4 M860.33 189.3h5.4 M863.03 186.6v5.4 M860.33 186.6l5.4 5.4 M860.33 192l5.4 -5.4 M872.2 181.89h5.4 M874.9 179.19v5.4 M872.2 179.19l5.4 5.4 M872.2 184.59l5.4 -5.4 M884.07 184.52h5.4 M886.77 181.82v5.4 M884.07 181.82l5.4 5.4 M884.07 187.22l5.4 -5.4 M895.95 194.55h5.4 M898.65 191.85v5.4 M895.95 191.85l5.4 5.4 M895.95 197.25l5.4 -5.4 M907.82 196.46h5.4 M910.52 193.76v5.4 M907.82 193.76l5.4 5.4 M907.82 199.16l5.4 -5.4 M919.69 194.55h5.4 M922.39 191.85v5.4 M919.69 191.85l5.4 5.4 M919.69 197.25l5.4 -5.4 M931.56 206.02h5.4 M934.26 203.32v5.4 M931.56 203.32l5.4 5.4 M931.56 208.72l5.4 -5.4 M943.43 208.17h5.4 M946.13 205.47v5.4 M943.43 205.47l5.4 5.4 M943.43 210.87l5.4 -5.4 M955.3 210.56h5.4 M958 207.86v5.4 M955.3 207.86l5.4 5.4 M955.3 213.26l5.4 -5.4" stroke="#ff0000" stroke-width="1.15" fill="none"/>
<path d="M673.1 205.91H958 M673.1 193.96H958 M673.1 182.02H958 M673.1 170.08H958 M673.1 158.14H958 M673.1 146.19H958" stroke="#000" stroke-width="1.3" stroke-dasharray="1.3 1.8175" stroke-dashoffset="2.1335" stroke-opacity="0.9" fill="none"/><path d="M720.58 134.25V217.85 M768.07 134.25V217.85 M815.55 134.25V217.85 M863.03 134.25V217.85 M910.52 134.25V217.85" stroke="#000" stroke-width="1.3" stroke-dasharray="1.3 1.8175" stroke-dashoffset="1.9475" stroke-opacity="0.9" fill="none"/>
<text class="n" transform="translate(668.2 220.65) scale(1.1 1)" text-anchor="end">15</text>
<text class="n" transform="translate(668.2 208.71) scale(1.1 1)" text-anchor="end">20</text>
<text class="n" transform="translate(668.2 196.76) scale(1.1 1)" text-anchor="end">25</text>
<text class="n" transform="translate(668.2 184.82) scale(1.1 1)" text-anchor="end">30</text>
<text class="n" transform="translate(668.2 172.88) scale(1.1 1)" text-anchor="end">35</text>
<text class="n" transform="translate(668.2 160.94) scale(1.1 1)" text-anchor="end">40</text>
<text class="n" transform="translate(668.2 148.99) scale(1.1 1)" text-anchor="end">45</text>
<text class="n" transform="translate(668.2 137.05) scale(1.1 1)" text-anchor="end">50</text>
<text class="n" transform="translate(673.1 228.85) scale(1.1 1)" text-anchor="middle">0</text>
<text class="n" transform="translate(720.58 228.85) scale(1.1 1)" text-anchor="middle">4</text>
<text class="n" transform="translate(768.07 228.85) scale(1.1 1)" text-anchor="middle">8</text>
<text class="n" transform="translate(815.55 228.85) scale(1.1 1)" text-anchor="middle">12</text>
<text class="n" transform="translate(863.03 228.85) scale(1.1 1)" text-anchor="middle">16</text>
<text class="n" transform="translate(910.52 228.85) scale(1.1 1)" text-anchor="middle">20</text>
<text class="n" transform="translate(958 228.85) scale(1.1 1)" text-anchor="middle">24</text>
<text class="t" x="902.3" y="130.7" textLength="16.1" lengthAdjust="spacingAndGlyphs">FSP</text>
<text class="t" x="922.1" y="130.7" textLength="36.9" lengthAdjust="spacingAndGlyphs">(ug/m3)</text>
<path d="M23.1 325.85h5.6 M308 325.85h-5.6 M23.1 319.88h3.8 M308 319.88h-3.8 M23.1 313.91h5.6 M308 313.91h-5.6 M23.1 307.94h3.8 M308 307.94h-3.8 M23.1 301.96h5.6 M308 301.96h-5.6 M23.1 295.99h3.8 M308 295.99h-3.8 M23.1 290.02h5.6 M308 290.02h-5.6 M23.1 284.05h3.8 M308 284.05h-3.8 M23.1 278.08h5.6 M308 278.08h-5.6 M23.1 272.11h3.8 M308 272.11h-3.8 M23.1 266.14h5.6 M308 266.14h-5.6 M23.1 260.16h3.8 M308 260.16h-3.8 M23.1 254.19h5.6 M308 254.19h-5.6 M23.1 248.22h3.8 M308 248.22h-3.8 M23.1 242.25h5.6 M308 242.25h-5.6 M23.1 325.85v-5.6 M23.1 242.25v5.6 M46.84 325.85v-3.8 M46.84 242.25v3.8 M70.58 325.85v-5.6 M70.58 242.25v5.6 M94.32 325.85v-3.8 M94.32 242.25v3.8 M118.07 325.85v-5.6 M118.07 242.25v5.6 M141.81 325.85v-3.8 M141.81 242.25v3.8 M165.55 325.85v-5.6 M165.55 242.25v5.6 M189.29 325.85v-3.8 M189.29 242.25v3.8 M213.03 325.85v-5.6 M213.03 242.25v5.6 M236.77 325.85v-3.8 M236.77 242.25v3.8 M260.52 325.85v-5.6 M260.52 242.25v5.6 M284.26 325.85v-3.8 M284.26 242.25v3.8 M308 325.85v-5.6 M308 242.25v5.6" stroke="#000" stroke-width="1.5" fill="none"/>
<rect x="23.1" y="242.25" width="284.9" height="83.6" fill="none" stroke="#000" stroke-width="1.6"/>
<clipPath id="c02"><rect x="22.65" y="241.8" width="285.8" height="84.5"/></clipPath>
<clipPath id="c02l"><rect x="23.9" y="243.05" width="283.3" height="82"/></clipPath>
<path clip-path="url(#c02l)" d="M23.1 310.2 L34.97 310.2 L46.84 319.99 L58.71 310.2 L70.58 310.2 L82.45 310.2 L94.32 310.2 L106.2 319.99 L118.07 319.99 L129.94 310.2 L141.81 310.2 L153.68 301.36 L165.55 301.36 L177.42 301.36 L189.29 310.2 L201.16 310.2 L213.03 310.2 L224.9 310.2 L236.77 310.2 L248.65 310.2 L260.52 310.2 L272.39 310.2 L284.26 310.2 L296.13 310.2 L308 310.2" stroke="#00ffff" stroke-width="1.25" fill="none" stroke-linejoin="round"/>
<path clip-path="url(#c02)" d="M20.4 310.2h5.4 M23.1 307.5v5.4 M20.4 307.5l5.4 5.4 M20.4 312.9l5.4 -5.4 M32.27 310.2h5.4 M34.97 307.5v5.4 M32.27 307.5l5.4 5.4 M32.27 312.9l5.4 -5.4 M44.14 319.99h5.4 M46.84 317.29v5.4 M44.14 317.29l5.4 5.4 M44.14 322.69l5.4 -5.4 M56.01 310.2h5.4 M58.71 307.5v5.4 M56.01 307.5l5.4 5.4 M56.01 312.9l5.4 -5.4 M67.88 310.2h5.4 M70.58 307.5v5.4 M67.88 307.5l5.4 5.4 M67.88 312.9l5.4 -5.4 M79.75 310.2h5.4 M82.45 307.5v5.4 M79.75 307.5l5.4 5.4 M79.75 312.9l5.4 -5.4 M91.62 310.2h5.4 M94.32 307.5v5.4 M91.62 307.5l5.4 5.4 M91.62 312.9l5.4 -5.4 M103.5 319.99h5.4 M106.2 317.29v5.4 M103.5 317.29l5.4 5.4 M103.5 322.69l5.4 -5.4 M115.37 319.99h5.4 M118.07 317.29v5.4 M115.37 317.29l5.4 5.4 M115.37 322.69l5.4 -5.4 M127.24 310.2h5.4 M129.94 307.5v5.4 M127.24 307.5l5.4 5.4 M127.24 312.9l5.4 -5.4 M139.11 310.2h5.4 M141.81 307.5v5.4 M139.11 307.5l5.4 5.4 M139.11 312.9l5.4 -5.4 M150.98 301.36h5.4 M153.68 298.66v5.4 M150.98 298.66l5.4 5.4 M150.98 304.06l5.4 -5.4 M162.85 301.36h5.4 M165.55 298.66v5.4 M162.85 298.66l5.4 5.4 M162.85 304.06l5.4 -5.4 M174.72 301.36h5.4 M177.42 298.66v5.4 M174.72 298.66l5.4 5.4 M174.72 304.06l5.4 -5.4 M186.59 310.2h5.4 M189.29 307.5v5.4 M186.59 307.5l5.4 5.4 M186.59 312.9l5.4 -5.4 M198.46 310.2h5.4 M201.16 307.5v5.4 M198.46 307.5l5.4 5.4 M198.46 312.9l5.4 -5.4 M210.33 310.2h5.4 M213.03 307.5v5.4 M210.33 307.5l5.4 5.4 M210.33 312.9l5.4 -5.4 M222.2 310.2h5.4 M224.9 307.5v5.4 M222.2 307.5l5.4 5.4 M222.2 312.9l5.4 -5.4 M234.07 310.2h5.4 M236.77 307.5v5.4 M234.07 307.5l5.4 5.4 M234.07 312.9l5.4 -5.4 M245.95 310.2h5.4 M248.65 307.5v5.4 M245.95 307.5l5.4 5.4 M245.95 312.9l5.4 -5.4 M257.82 310.2h5.4 M260.52 307.5v5.4 M257.82 307.5l5.4 5.4 M257.82 312.9l5.4 -5.4 M269.69 310.2h5.4 M272.39 307.5v5.4 M269.69 307.5l5.4 5.4 M269.69 312.9l5.4 -5.4 M281.56 310.2h5.4 M284.26 307.5v5.4 M281.56 307.5l5.4 5.4 M281.56 312.9l5.4 -5.4 M293.43 310.2h5.4 M296.13 307.5v5.4 M293.43 307.5l5.4 5.4 M293.43 312.9l5.4 -5.4 M305.3 310.2h5.4 M308 307.5v5.4 M305.3 307.5l5.4 5.4 M305.3 312.9l5.4 -5.4" stroke="#00ffff" stroke-width="1.15" fill="none"/>
<path clip-path="url(#c02l)" d="M23.1 309.72 L46.84 301.12 L58.71 301.12 L70.58 310.2 L82.45 310.2 L94.32 310.2 L106.2 310.2 L236.77 292.04 L248.65 292.04 L260.52 292.04 L272.39 283.68 L284.26 265.29 L296.13 265.29 L308 265.29" stroke="#00ff00" stroke-width="1.25" fill="none" stroke-linejoin="round"/>
<path clip-path="url(#c02)" d="M20.4 309.72h5.4 M23.1 307.02v5.4 M20.4 307.02l5.4 5.4 M20.4 312.42l5.4 -5.4 M44.14 301.12h5.4 M46.84 298.42v5.4 M44.14 298.42l5.4 5.4 M44.14 303.82l5.4 -5.4 M56.01 301.12h5.4 M58.71 298.42v5.4 M56.01 298.42l5.4 5.4 M56.01 303.82l5.4 -5.4 M67.88 310.2h5.4 M70.58 307.5v5.4 M67.88 307.5l5.4 5.4 M67.88 312.9l5.4 -5.4 M79.75 310.2h5.4 M82.45 307.5v5.4 M79.75 307.5l5.4 5.4 M79.75 312.9l5.4 -5.4 M91.62 310.2h5.4 M94.32 307.5v5.4 M91.62 307.5l5.4 5.4 M91.62 312.9l5.4 -5.4 M103.5 310.2h5.4 M106.2 307.5v5.4 M103.5 307.5l5.4 5.4 M103.5 312.9l5.4 -5.4 M234.07 292.04h5.4 M236.77 289.34v5.4 M234.07 289.34l5.4 5.4 M234.07 294.74l5.4 -5.4 M245.95 292.04h5.4 M248.65 289.34v5.4 M245.95 289.34l5.4 5.4 M245.95 294.74l5.4 -5.4 M257.82 292.04h5.4 M260.52 289.34v5.4 M257.82 289.34l5.4 5.4 M257.82 294.74l5.4 -5.4 M269.69 283.68h5.4 M272.39 280.98v5.4 M269.69 280.98l5.4 5.4 M269.69 286.38l5.4 -5.4 M281.56 265.29h5.4 M284.26 262.59v5.4 M281.56 262.59l5.4 5.4 M281.56 267.99l5.4 -5.4 M293.43 265.29h5.4 M296.13 262.59v5.4 M293.43 262.59l5.4 5.4 M293.43 267.99l5.4 -5.4 M305.3 265.29h5.4 M308 262.59v5.4 M305.3 262.59l5.4 5.4 M305.3 267.99l5.4 -5.4" stroke="#00ff00" stroke-width="1.15" fill="none"/>
<path clip-path="url(#c02l)" d="M23.1 265.29 L34.97 265.29 L46.84 265.29 L58.71 265.29 L70.58 265.29 L82.45 265.29 L94.32 265.29 L106.2 265.29 L118.07 265.29 L129.94 265.29 L141.81 256.21 L153.68 265.29 L165.55 265.29 L177.42 256.21 L189.29 246.42 L201.16 246.42 L213.03 256.21 L224.9 265.29 L236.77 256.21 L248.65 256.21 L260.52 265.29 L272.39 265.29 L284.26 265.29 L296.13 265.29 L308 265.29" stroke="#0000ff" stroke-width="1.25" fill="none" stroke-linejoin="round"/>
<path clip-path="url(#c02)" d="M20.4 265.29h5.4 M23.1 262.59v5.4 M20.4 262.59l5.4 5.4 M20.4 267.99l5.4 -5.4 M32.27 265.29h5.4 M34.97 262.59v5.4 M32.27 262.59l5.4 5.4 M32.27 267.99l5.4 -5.4 M44.14 265.29h5.4 M46.84 262.59v5.4 M44.14 262.59l5.4 5.4 M44.14 267.99l5.4 -5.4 M56.01 265.29h5.4 M58.71 262.59v5.4 M56.01 262.59l5.4 5.4 M56.01 267.99l5.4 -5.4 M67.88 265.29h5.4 M70.58 262.59v5.4 M67.88 262.59l5.4 5.4 M67.88 267.99l5.4 -5.4 M79.75 265.29h5.4 M82.45 262.59v5.4 M79.75 262.59l5.4 5.4 M79.75 267.99l5.4 -5.4 M91.62 265.29h5.4 M94.32 262.59v5.4 M91.62 262.59l5.4 5.4 M91.62 267.99l5.4 -5.4 M103.5 265.29h5.4 M106.2 262.59v5.4 M103.5 262.59l5.4 5.4 M103.5 267.99l5.4 -5.4 M115.37 265.29h5.4 M118.07 262.59v5.4 M115.37 262.59l5.4 5.4 M115.37 267.99l5.4 -5.4 M127.24 265.29h5.4 M129.94 262.59v5.4 M127.24 262.59l5.4 5.4 M127.24 267.99l5.4 -5.4 M139.11 256.21h5.4 M141.81 253.51v5.4 M139.11 253.51l5.4 5.4 M139.11 258.91l5.4 -5.4 M150.98 265.29h5.4 M153.68 262.59v5.4 M150.98 262.59l5.4 5.4 M150.98 267.99l5.4 -5.4 M162.85 265.29h5.4 M165.55 262.59v5.4 M162.85 262.59l5.4 5.4 M162.85 267.99l5.4 -5.4 M174.72 256.21h5.4 M177.42 253.51v5.4 M174.72 253.51l5.4 5.4 M174.72 258.91l5.4 -5.4 M186.59 246.42h5.4 M189.29 243.72v5.4 M186.59 243.72l5.4 5.4 M186.59 249.12l5.4 -5.4 M198.46 246.42h5.4 M201.16 243.72v5.4 M198.46 243.72l5.4 5.4 M198.46 249.12l5.4 -5.4 M210.33 256.21h5.4 M213.03 253.51v5.4 M210.33 253.51l5.4 5.4 M210.33 258.91l5.4 -5.4 M222.2 265.29h5.4 M224.9 262.59v5.4 M222.2 262.59l5.4 5.4 M222.2 267.99l5.4 -5.4 M234.07 256.21h5.4 M236.77 253.51v5.4 M234.07 253.51l5.4 5.4 M234.07 258.91l5.4 -5.4 M245.95 256.21h5.4 M248.65 253.51v5.4 M245.95 253.51l5.4 5.4 M245.95 258.91l5.4 -5.4 M257.82 265.29h5.4 M260.52 262.59v5.4 M257.82 262.59l5.4 5.4 M257.82 267.99l5.4 -5.4 M269.69 265.29h5.4 M272.39 262.59v5.4 M269.69 262.59l5.4 5.4 M269.69 267.99l5.4 -5.4 M281.56 265.29h5.4 M284.26 262.59v5.4 M281.56 262.59l5.4 5.4 M281.56 267.99l5.4 -5.4 M293.43 265.29h5.4 M296.13 262.59v5.4 M293.43 262.59l5.4 5.4 M293.43 267.99l5.4 -5.4 M305.3 265.29h5.4 M308 262.59v5.4 M305.3 262.59l5.4 5.4 M305.3 267.99l5.4 -5.4" stroke="#0000ff" stroke-width="1.15" fill="none"/>
<path clip-path="url(#c02l)" d="M23.1 265.29 L58.71 265.29 L70.58 265.29 L82.45 274.13 L94.32 274.13 L106.2 265.29 L118.07 274.13 L129.94 265.29 L141.81 256.21 L153.68 256.21 L165.55 265.29 L177.42 265.29 L189.29 256.21 L201.16 256.21 L213.03 265.29 L224.9 265.29 L236.77 265.29 L248.65 265.29 L260.52 274.13 L272.39 274.13 L284.26 274.13 L296.13 265.29 L308 274.13" stroke="#ff0000" stroke-width="1.25" fill="none" stroke-linejoin="round"/>
<path clip-path="url(#c02)" d="M20.4 265.29h5.4 M23.1 262.59v5.4 M20.4 262.59l5.4 5.4 M20.4 267.99l5.4 -5.4 M56.01 265.29h5.4 M58.71 262.59v5.4 M56.01 262.59l5.4 5.4 M56.01 267.99l5.4 -5.4 M67.88 265.29h5.4 M70.58 262.59v5.4 M67.88 262.59l5.4 5.4 M67.88 267.99l5.4 -5.4 M79.75 274.13h5.4 M82.45 271.43v5.4 M79.75 271.43l5.4 5.4 M79.75 276.83l5.4 -5.4 M91.62 274.13h5.4 M94.32 271.43v5.4 M91.62 271.43l5.4 5.4 M91.62 276.83l5.4 -5.4 M103.5 265.29h5.4 M106.2 262.59v5.4 M103.5 262.59l5.4 5.4 M103.5 267.99l5.4 -5.4 M115.37 274.13h5.4 M118.07 271.43v5.4 M115.37 271.43l5.4 5.4 M115.37 276.83l5.4 -5.4 M127.24 265.29h5.4 M129.94 262.59v5.4 M127.24 262.59l5.4 5.4 M127.24 267.99l5.4 -5.4 M139.11 256.21h5.4 M141.81 253.51v5.4 M139.11 253.51l5.4 5.4 M139.11 258.91l5.4 -5.4 M150.98 256.21h5.4 M153.68 253.51v5.4 M150.98 253.51l5.4 5.4 M150.98 258.91l5.4 -5.4 M162.85 265.29h5.4 M165.55 262.59v5.4 M162.85 262.59l5.4 5.4 M162.85 267.99l5.4 -5.4 M174.72 265.29h5.4 M177.42 262.59v5.4 M174.72 262.59l5.4 5.4 M174.72 267.99l5.4 -5.4 M186.59 256.21h5.4 M189.29 253.51v5.4 M186.59 253.51l5.4 5.4 M186.59 258.91l5.4 -5.4 M198.46 256.21h5.4 M201.16 253.51v5.4 M198.46 253.51l5.4 5.4 M198.46 258.91l5.4 -5.4 M210.33 265.29h5.4 M213.03 262.59v5.4 M210.33 262.59l5.4 5.4 M210.33 267.99l5.4 -5.4 M222.2 265.29h5.4 M224.9 262.59v5.4 M222.2 262.59l5.4 5.4 M222.2 267.99l5.4 -5.4 M234.07 265.29h5.4 M236.77 262.59v5.4 M234.07 262.59l5.4 5.4 M234.07 267.99l5.4 -5.4 M245.95 265.29h5.4 M248.65 262.59v5.4 M245.95 262.59l5.4 5.4 M245.95 267.99l5.4 -5.4 M257.82 274.13h5.4 M260.52 271.43v5.4 M257.82 271.43l5.4 5.4 M257.82 276.83l5.4 -5.4 M269.69 274.13h5.4 M272.39 271.43v5.4 M269.69 271.43l5.4 5.4 M269.69 276.83l5.4 -5.4 M281.56 274.13h5.4 M284.26 271.43v5.4 M281.56 271.43l5.4 5.4 M281.56 276.83l5.4 -5.4 M293.43 265.29h5.4 M296.13 262.59v5.4 M293.43 262.59l5.4 5.4 M293.43 267.99l5.4 -5.4 M305.3 274.13h5.4 M308 271.43v5.4 M305.3 271.43l5.4 5.4 M305.3 276.83l5.4 -5.4" stroke="#ff0000" stroke-width="1.15" fill="none"/>
<path d="M23.1 313.91H308 M23.1 301.96H308 M23.1 290.02H308 M23.1 278.08H308 M23.1 266.14H308 M23.1 254.19H308" stroke="#000" stroke-width="1.3" stroke-dasharray="1.3 1.8175" stroke-dashoffset="2.1335" stroke-opacity="0.9" fill="none"/><path d="M70.58 242.25V325.85 M118.07 242.25V325.85 M165.55 242.25V325.85 M213.03 242.25V325.85 M260.52 242.25V325.85" stroke="#000" stroke-width="1.3" stroke-dasharray="1.3 1.8175" stroke-dashoffset="1.9475" stroke-opacity="0.9" fill="none"/>
<text class="n" transform="translate(18.2 328.65) scale(1.1 1)" text-anchor="end">0.5</text>
<text class="n" transform="translate(18.2 316.71) scale(1.1 1)" text-anchor="end">1.0</text>
<text class="n" transform="translate(18.2 304.76) scale(1.1 1)" text-anchor="end">1.5</text>
<text class="n" transform="translate(18.2 292.82) scale(1.1 1)" text-anchor="end">2.0</text>
<text class="n" transform="translate(18.2 280.88) scale(1.1 1)" text-anchor="end">2.5</text>
<text class="n" transform="translate(18.2 268.94) scale(1.1 1)" text-anchor="end">3.0</text>
<text class="n" transform="translate(18.2 256.99) scale(1.1 1)" text-anchor="end">3.5</text>
<text class="n" transform="translate(18.2 245.05) scale(1.1 1)" text-anchor="end">4.0</text>
<text class="n" transform="translate(23.1 336.85) scale(1.1 1)" text-anchor="middle">0</text>
<text class="n" transform="translate(70.58 336.85) scale(1.1 1)" text-anchor="middle">4</text>
<text class="n" transform="translate(118.07 336.85) scale(1.1 1)" text-anchor="middle">8</text>
<text class="n" transform="translate(165.55 336.85) scale(1.1 1)" text-anchor="middle">12</text>
<text class="n" transform="translate(213.03 336.85) scale(1.1 1)" text-anchor="middle">16</text>
<text class="n" transform="translate(260.52 336.85) scale(1.1 1)" text-anchor="middle">20</text>
<text class="n" transform="translate(308 336.85) scale(1.1 1)" text-anchor="middle">24</text>
<text class="t" x="266.7" y="238.7" textLength="15.4" lengthAdjust="spacingAndGlyphs">SO2</text>
<text class="t" x="285.7" y="238.7" textLength="22.9" lengthAdjust="spacingAndGlyphs">(ppb)</text>
<path d="M348.1 325.85h5.6 M633 325.85h-5.6 M348.1 319.88h3.8 M633 319.88h-3.8 M348.1 313.91h5.6 M633 313.91h-5.6 M348.1 307.94h3.8 M633 307.94h-3.8 M348.1 301.96h5.6 M633 301.96h-5.6 M348.1 295.99h3.8 M633 295.99h-3.8 M348.1 290.02h5.6 M633 290.02h-5.6 M348.1 284.05h3.8 M633 284.05h-3.8 M348.1 278.08h5.6 M633 278.08h-5.6 M348.1 272.11h3.8 M633 272.11h-3.8 M348.1 266.14h5.6 M633 266.14h-5.6 M348.1 260.16h3.8 M633 260.16h-3.8 M348.1 254.19h5.6 M633 254.19h-5.6 M348.1 248.22h3.8 M633 248.22h-3.8 M348.1 242.25h5.6 M633 242.25h-5.6 M348.1 325.85v-5.6 M348.1 242.25v5.6 M371.84 325.85v-3.8 M371.84 242.25v3.8 M395.58 325.85v-5.6 M395.58 242.25v5.6 M419.33 325.85v-3.8 M419.33 242.25v3.8 M443.07 325.85v-5.6 M443.07 242.25v5.6 M466.81 325.85v-3.8 M466.81 242.25v3.8 M490.55 325.85v-5.6 M490.55 242.25v5.6 M514.29 325.85v-3.8 M514.29 242.25v3.8 M538.03 325.85v-5.6 M538.03 242.25v5.6 M561.77 325.85v-3.8 M561.77 242.25v3.8 M585.52 325.85v-5.6 M585.52 242.25v5.6 M609.26 325.85v-3.8 M609.26 242.25v3.8 M633 325.85v-5.6 M633 242.25v5.6" stroke="#000" stroke-width="1.5" fill="none"/>
<rect x="348.1" y="242.25" width="284.9" height="83.6" fill="none" stroke="#000" stroke-width="1.6"/>
<clipPath id="c12"><rect x="347.65" y="241.8" width="285.8" height="84.5"/></clipPath>
<clipPath id="c12l"><rect x="348.9" y="243.05" width="283.3" height="82"/></clipPath>
<path clip-path="url(#c12l)" d="M348.1 300.4 L359.97 293.48 L371.84 269.95 L383.71 274.49 L395.58 297.66 L407.45 304.58 L419.33 291.92 L431.2 286.67 L443.07 302.43 L454.94 282.97 L466.81 276.16 L478.68 275.8 L490.55 267.44 L502.42 261.95 L514.29 259.44 L526.16 250.96 L538.03 248.45 L549.9 252.63 L561.77 252.63 L573.65 293.48 L585.52 292.64 L597.39 291.92 L609.26 280.46 L621.13 310.2 L633 304.58" stroke="#00ffff" stroke-width="1.25" fill="none" stroke-linejoin="round"/>
<path clip-path="url(#c12)" d="M345.4 300.4h5.4 M348.1 297.7v5.4 M345.4 297.7l5.4 5.4 M345.4 303.1l5.4 -5.4 M357.27 293.48h5.4 M359.97 290.78v5.4 M357.27 290.78l5.4 5.4 M357.27 296.18l5.4 -5.4 M369.14 269.95h5.4 M371.84 267.25v5.4 M369.14 267.25l5.4 5.4 M369.14 272.65l5.4 -5.4 M381.01 274.49h5.4 M383.71 271.79v5.4 M381.01 271.79l5.4 5.4 M381.01 277.19l5.4 -5.4 M392.88 297.66h5.4 M395.58 294.96v5.4 M392.88 294.96l5.4 5.4 M392.88 300.36l5.4 -5.4 M404.75 304.58h5.4 M407.45 301.88v5.4 M404.75 301.88l5.4 5.4 M404.75 307.28l5.4 -5.4 M416.63 291.92h5.4 M419.33 289.22v5.4 M416.63 289.22l5.4 5.4 M416.63 294.62l5.4 -5.4 M428.5 286.67h5.4 M431.2 283.97v5.4 M428.5 283.97l5.4 5.4 M428.5 289.37l5.4 -5.4 M440.37 302.43h5.4 M443.07 299.73v5.4 M440.37 299.73l5.4 5.4 M440.37 305.13l5.4 -5.4 M452.24 282.97h5.4 M454.94 280.27v5.4 M452.24 280.27l5.4 5.4 M452.24 285.67l5.4 -5.4 M464.11 276.16h5.4 M466.81 273.46v5.4 M464.11 273.46l5.4 5.4 M464.11 278.86l5.4 -5.4 M475.98 275.8h5.4 M478.68 273.1v5.4 M475.98 273.1l5.4 5.4 M475.98 278.5l5.4 -5.4 M487.85 267.44h5.4 M490.55 264.74v5.4 M487.85 264.74l5.4 5.4 M487.85 270.14l5.4 -5.4 M499.72 261.95h5.4 M502.42 259.25v5.4 M499.72 259.25l5.4 5.4 M499.72 264.65l5.4 -5.4 M511.59 259.44h5.4 M514.29 256.74v5.4 M511.59 256.74l5.4 5.4 M511.59 262.14l5.4 -5.4 M523.46 250.96h5.4 M526.16 248.26v5.4 M523.46 248.26l5.4 5.4 M523.46 253.66l5.4 -5.4 M535.33 248.45h5.4 M538.03 245.75v5.4 M535.33 245.75l5.4 5.4 M535.33 251.15l5.4 -5.4 M547.2 252.63h5.4 M549.9 249.93v5.4 M547.2 249.93l5.4 5.4 M547.2 255.33l5.4 -5.4 M559.07 252.63h5.4 M561.77 249.93v5.4 M559.07 249.93l5.4 5.4 M559.07 255.33l5.4 -5.4 M570.95 293.48h5.4 M573.65 290.78v5.4 M570.95 290.78l5.4 5.4 M570.95 296.18l5.4 -5.4 M582.82 292.64h5.4 M585.52 289.94v5.4 M582.82 289.94l5.4 5.4 M582.82 295.34l5.4 -5.4 M594.69 291.92h5.4 M597.39 289.22v5.4 M594.69 289.22l5.4 5.4 M594.69 294.62l5.4 -5.4 M606.56 280.46h5.4 M609.26 277.76v5.4 M606.56 277.76l5.4 5.4 M606.56 283.16l5.4 -5.4 M618.43 310.2h5.4 M621.13 307.5v5.4 M618.43 307.5l5.4 5.4 M618.43 312.9l5.4 -5.4 M630.3 304.58h5.4 M633 301.88v5.4 M630.3 301.88l5.4 5.4 M630.3 307.28l5.4 -5.4" stroke="#00ffff" stroke-width="1.15" fill="none"/>
<path clip-path="url(#c12l)" d="M348.1 303.99 L371.84 295.15 L383.71 277.83 L395.58 282.13 L407.45 267.44 L419.33 268.87 L431.2 285.59 L561.77 306.61 L573.65 303.15 L585.52 301.84 L597.39 314.38 L609.26 323.45 L621.13 324.05 L633 324.05" stroke="#00ff00" stroke-width="1.25" fill="none" stroke-linejoin="round"/>
<path clip-path="url(#c12)" d="M345.4 303.99h5.4 M348.1 301.29v5.4 M345.4 301.29l5.4 5.4 M345.4 306.69l5.4 -5.4 M369.14 295.15h5.4 M371.84 292.45v5.4 M369.14 292.45l5.4 5.4 M369.14 297.85l5.4 -5.4 M381.01 277.83h5.4 M383.71 275.13v5.4 M381.01 275.13l5.4 5.4 M381.01 280.53l5.4 -5.4 M392.88 282.13h5.4 M395.58 279.43v5.4 M392.88 279.43l5.4 5.4 M392.88 284.83l5.4 -5.4 M404.75 267.44h5.4 M407.45 264.74v5.4 M404.75 264.74l5.4 5.4 M404.75 270.14l5.4 -5.4 M416.63 268.87h5.4 M419.33 266.17v5.4 M416.63 266.17l5.4 5.4 M416.63 271.57l5.4 -5.4 M428.5 285.59h5.4 M431.2 282.89v5.4 M428.5 282.89l5.4 5.4 M428.5 288.29l5.4 -5.4 M559.07 306.61h5.4 M561.77 303.91v5.4 M559.07 303.91l5.4 5.4 M559.07 309.31l5.4 -5.4 M570.95 303.15h5.4 M573.65 300.45v5.4 M570.95 300.45l5.4 5.4 M570.95 305.85l5.4 -5.4 M582.82 301.84h5.4 M585.52 299.14v5.4 M582.82 299.14l5.4 5.4 M582.82 304.54l5.4 -5.4 M594.69 314.38h5.4 M597.39 311.68v5.4 M594.69 311.68l5.4 5.4 M594.69 317.08l5.4 -5.4 M606.56 323.45h5.4 M609.26 320.75v5.4 M606.56 320.75l5.4 5.4 M606.56 326.15l5.4 -5.4 M618.43 324.05h5.4 M621.13 321.35v5.4 M618.43 321.35l5.4 5.4 M618.43 326.75l5.4 -5.4 M630.3 324.05h5.4 M633 321.35v5.4 M630.3 321.35l5.4 5.4 M630.3 326.75l5.4 -5.4" stroke="#00ff00" stroke-width="1.15" fill="none"/>
<path clip-path="url(#c12l)" d="M348.1 324.29 L359.97 324.29 L371.84 324.29 L383.71 324.29 L395.58 324.29 L407.45 324.29 L419.33 324.29 L431.2 324.29 L443.07 324.29 L454.94 321.9 L466.81 317.84 L478.68 318.68 L490.55 319.27 L502.42 319.87 L514.29 320.35 L526.16 321.42 L538.03 320.71 L549.9 317.84 L561.77 321.42 L573.65 322.02 L585.52 322.02 L597.39 317.12 L609.26 319.27 L621.13 315.69 L633 315.69" stroke="#0000ff" stroke-width="1.25" fill="none" stroke-linejoin="round"/>
<path clip-path="url(#c12)" d="M345.4 324.29h5.4 M348.1 321.59v5.4 M345.4 321.59l5.4 5.4 M345.4 326.99l5.4 -5.4 M357.27 324.29h5.4 M359.97 321.59v5.4 M357.27 321.59l5.4 5.4 M357.27 326.99l5.4 -5.4 M369.14 324.29h5.4 M371.84 321.59v5.4 M369.14 321.59l5.4 5.4 M369.14 326.99l5.4 -5.4 M381.01 324.29h5.4 M383.71 321.59v5.4 M381.01 321.59l5.4 5.4 M381.01 326.99l5.4 -5.4 M392.88 324.29h5.4 M395.58 321.59v5.4 M392.88 321.59l5.4 5.4 M392.88 326.99l5.4 -5.4 M404.75 324.29h5.4 M407.45 321.59v5.4 M404.75 321.59l5.4 5.4 M404.75 326.99l5.4 -5.4 M416.63 324.29h5.4 M419.33 321.59v5.4 M416.63 321.59l5.4 5.4 M416.63 326.99l5.4 -5.4 M428.5 324.29h5.4 M431.2 321.59v5.4 M428.5 321.59l5.4 5.4 M428.5 326.99l5.4 -5.4 M440.37 324.29h5.4 M443.07 321.59v5.4 M440.37 321.59l5.4 5.4 M440.37 326.99l5.4 -5.4 M452.24 321.9h5.4 M454.94 319.2v5.4 M452.24 319.2l5.4 5.4 M452.24 324.6l5.4 -5.4 M464.11 317.84h5.4 M466.81 315.14v5.4 M464.11 315.14l5.4 5.4 M464.11 320.54l5.4 -5.4 M475.98 318.68h5.4 M478.68 315.98v5.4 M475.98 315.98l5.4 5.4 M475.98 321.38l5.4 -5.4 M487.85 319.27h5.4 M490.55 316.57v5.4 M487.85 316.57l5.4 5.4 M487.85 321.97l5.4 -5.4 M499.72 319.87h5.4 M502.42 317.17v5.4 M499.72 317.17l5.4 5.4 M499.72 322.57l5.4 -5.4 M511.59 320.35h5.4 M514.29 317.65v5.4 M511.59 317.65l5.4 5.4 M511.59 323.05l5.4 -5.4 M523.46 321.42h5.4 M526.16 318.72v5.4 M523.46 318.72l5.4 5.4 M523.46 324.12l5.4 -5.4 M535.33 320.71h5.4 M538.03 318.01v5.4 M535.33 318.01l5.4 5.4 M535.33 323.41l5.4 -5.4 M547.2 317.84h5.4 M549.9 315.14v5.4 M547.2 315.14l5.4 5.4 M547.2 320.54l5.4 -5.4 M559.07 321.42h5.4 M561.77 318.72v5.4 M559.07 318.72l5.4 5.4 M559.07 324.12l5.4 -5.4 M570.95 322.02h5.4 M573.65 319.32v5.4 M570.95 319.32l5.4 5.4 M570.95 324.72l5.4 -5.4 M582.82 322.02h5.4 M585.52 319.32v5.4 M582.82 319.32l5.4 5.4 M582.82 324.72l5.4 -5.4 M594.69 317.12h5.4 M597.39 314.42v5.4 M594.69 314.42l5.4 5.4 M594.69 319.82l5.4 -5.4 M606.56 319.27h5.4 M609.26 316.57v5.4 M606.56 316.57l5.4 5.4 M606.56 321.97l5.4 -5.4 M618.43 315.69h5.4 M621.13 312.99v5.4 M618.43 312.99l5.4 5.4 M618.43 318.39l5.4 -5.4 M630.3 315.69h5.4 M633 312.99v5.4 M630.3 312.99l5.4 5.4 M630.3 318.39l5.4 -5.4" stroke="#0000ff" stroke-width="1.15" fill="none"/>
<path clip-path="url(#c12l)" d="M348.1 316.29 L383.71 322.74 L395.58 322.74 L407.45 322.74 L419.33 322.74 L431.2 322.74 L443.07 322.74 L454.94 319.99 L466.81 307.69 L478.68 305.66 L490.55 296.82 L502.42 285.59 L514.29 279.98 L526.16 261.95 L538.03 249.29 L549.9 248.45 L561.77 261.95 L573.65 296.82 L585.52 303.99 L597.39 314.02 L609.26 317.12 L621.13 318.68 L633 318.68" stroke="#ff0000" stroke-width="1.25" fill="none" stroke-linejoin="round"/>
<path clip-path="url(#c12)" d="M345.4 316.29h5.4 M348.1 313.59v5.4 M345.4 313.59l5.4 5.4 M345.4 318.99l5.4 -5.4 M381.01 322.74h5.4 M383.71 320.04v5.4 M381.01 320.04l5.4 5.4 M381.01 325.44l5.4 -5.4 M392.88 322.74h5.4 M395.58 320.04v5.4 M392.88 320.04l5.4 5.4 M392.88 325.44l5.4 -5.4 M404.75 322.74h5.4 M407.45 320.04v5.4 M404.75 320.04l5.4 5.4 M404.75 325.44l5.4 -5.4 M416.63 322.74h5.4 M419.33 320.04v5.4 M416.63 320.04l5.4 5.4 M416.63 325.44l5.4 -5.4 M428.5 322.74h5.4 M431.2 320.04v5.4 M428.5 320.04l5.4 5.4 M428.5 325.44l5.4 -5.4 M440.37 322.74h5.4 M443.07 320.04v5.4 M440.37 320.04l5.4 5.4 M440.37 325.44l5.4 -5.4 M452.24 319.99h5.4 M454.94 317.29v5.4 M452.24 317.29l5.4 5.4 M452.24 322.69l5.4 -5.4 M464.11 307.69h5.4 M466.81 304.99v5.4 M464.11 304.99l5.4 5.4 M464.11 310.39l5.4 -5.4 M475.98 305.66h5.4 M478.68 302.96v5.4 M475.98 302.96l5.4 5.4 M475.98 308.36l5.4 -5.4 M487.85 296.82h5.4 M490.55 294.12v5.4 M487.85 294.12l5.4 5.4 M487.85 299.52l5.4 -5.4 M499.72 285.59h5.4 M502.42 282.89v5.4 M499.72 282.89l5.4 5.4 M499.72 288.29l5.4 -5.4 M511.59 279.98h5.4 M514.29 277.28v5.4 M511.59 277.28l5.4 5.4 M511.59 282.68l5.4 -5.4 M523.46 261.95h5.4 M526.16 259.25v5.4 M523.46 259.25l5.4 5.4 M523.46 264.65l5.4 -5.4 M535.33 249.29h5.4 M538.03 246.59v5.4 M535.33 246.59l5.4 5.4 M535.33 251.99l5.4 -5.4 M547.2 248.45h5.4 M549.9 245.75v5.4 M547.2 245.75l5.4 5.4 M547.2 251.15l5.4 -5.4 M559.07 261.95h5.4 M561.77 259.25v5.4 M559.07 259.25l5.4 5.4 M559.07 264.65l5.4 -5.4 M570.95 296.82h5.4 M573.65 294.12v5.4 M570.95 294.12l5.4 5.4 M570.95 299.52l5.4 -5.4 M582.82 303.99h5.4 M585.52 301.29v5.4 M582.82 301.29l5.4 5.4 M582.82 306.69l5.4 -5.4 M594.69 314.02h5.4 M597.39 311.32v5.4 M594.69 311.32l5.4 5.4 M594.69 316.72l5.4 -5.4 M606.56 317.12h5.4 M609.26 314.42v5.4 M606.56 314.42l5.4 5.4 M606.56 319.82l5.4 -5.4 M618.43 318.68h5.4 M621.13 315.98v5.4 M618.43 315.98l5.4 5.4 M618.43 321.38l5.4 -5.4 M630.3 318.68h5.4 M633 315.98v5.4 M630.3 315.98l5.4 5.4 M630.3 321.38l5.4 -5.4" stroke="#ff0000" stroke-width="1.15" fill="none"/>
<path d="M348.1 313.91H633 M348.1 301.96H633 M348.1 290.02H633 M348.1 278.08H633 M348.1 266.14H633 M348.1 254.19H633" stroke="#000" stroke-width="1.3" stroke-dasharray="1.3 1.8175" stroke-dashoffset="2.1335" stroke-opacity="0.9" fill="none"/><path d="M395.58 242.25V325.85 M443.07 242.25V325.85 M490.55 242.25V325.85 M538.03 242.25V325.85 M585.52 242.25V325.85" stroke="#000" stroke-width="1.3" stroke-dasharray="1.3 1.8175" stroke-dashoffset="1.9475" stroke-opacity="0.9" fill="none"/>
<text class="n" transform="translate(343.2 328.65) scale(1.1 1)" text-anchor="end">0</text>
<text class="n" transform="translate(343.2 316.71) scale(1.1 1)" text-anchor="end">10</text>
<text class="n" transform="translate(343.2 304.76) scale(1.1 1)" text-anchor="end">20</text>
<text class="n" transform="translate(343.2 292.82) scale(1.1 1)" text-anchor="end">30</text>
<text class="n" transform="translate(343.2 280.88) scale(1.1 1)" text-anchor="end">40</text>
<text class="n" transform="translate(343.2 268.94) scale(1.1 1)" text-anchor="end">50</text>
<text class="n" transform="translate(343.2 256.99) scale(1.1 1)" text-anchor="end">60</text>
<text class="n" transform="translate(343.2 245.05) scale(1.1 1)" text-anchor="end">70</text>
<text class="n" transform="translate(348.1 336.85) scale(1.1 1)" text-anchor="middle">0</text>
<text class="n" transform="translate(395.58 336.85) scale(1.1 1)" text-anchor="middle">4</text>
<text class="n" transform="translate(443.07 336.85) scale(1.1 1)" text-anchor="middle">8</text>
<text class="n" transform="translate(490.55 336.85) scale(1.1 1)" text-anchor="middle">12</text>
<text class="n" transform="translate(538.03 336.85) scale(1.1 1)" text-anchor="middle">16</text>
<text class="n" transform="translate(585.52 336.85) scale(1.1 1)" text-anchor="middle">20</text>
<text class="n" transform="translate(633 336.85) scale(1.1 1)" text-anchor="middle">24</text>
<text class="t" x="597" y="238.7" textLength="10.7" lengthAdjust="spacingAndGlyphs">O3</text>
<text class="t" x="611.4" y="238.7" textLength="22.5" lengthAdjust="spacingAndGlyphs">(ppb)</text>
<path d="M673.1 325.85h5.6 M958 325.85h-5.6 M673.1 318.88h3.8 M958 318.88h-3.8 M673.1 311.92h5.6 M958 311.92h-5.6 M673.1 304.95h3.8 M958 304.95h-3.8 M673.1 297.98h5.6 M958 297.98h-5.6 M673.1 291.02h3.8 M958 291.02h-3.8 M673.1 284.05h5.6 M958 284.05h-5.6 M673.1 277.08h3.8 M958 277.08h-3.8 M673.1 270.12h5.6 M958 270.12h-5.6 M673.1 263.15h3.8 M958 263.15h-3.8 M673.1 256.18h5.6 M958 256.18h-5.6 M673.1 249.22h3.8 M958 249.22h-3.8 M673.1 242.25h5.6 M958 242.25h-5.6 M673.1 325.85v-5.6 M673.1 242.25v5.6 M696.84 325.85v-3.8 M696.84 242.25v3.8 M720.58 325.85v-5.6 M720.58 242.25v5.6 M744.33 325.85v-3.8 M744.33 242.25v3.8 M768.07 325.85v-5.6 M768.07 242.25v5.6 M791.81 325.85v-3.8 M791.81 242.25v3.8 M815.55 325.85v-5.6 M815.55 242.25v5.6 M839.29 325.85v-3.8 M839.29 242.25v3.8 M863.03 325.85v-5.6 M863.03 242.25v5.6 M886.77 325.85v-3.8 M886.77 242.25v3.8 M910.52 325.85v-5.6 M910.52 242.25v5.6 M934.26 325.85v-3.8 M934.26 242.25v3.8 M958 325.85v-5.6 M958 242.25v5.6" stroke="#000" stroke-width="1.5" fill="none"/>
<rect x="673.1" y="242.25" width="284.9" height="83.6" fill="none" stroke="#000" stroke-width="1.6"/>
<clipPath id="c22"><rect x="672.65" y="241.8" width="285.8" height="84.5"/></clipPath>
<clipPath id="c22l"><rect x="673.9" y="243.05" width="283.3" height="82"/></clipPath>
<path clip-path="url(#c22l)" d="M673.1 309.76 L684.97 310.18 L696.84 311.57 L708.71 313.66 L720.58 316.17 L732.45 315.75 L744.33 313.66 L756.2 312.27 L768.07 310.87 L779.94 308.78 L791.81 313.66 L803.68 311.57 L815.55 308.78 L827.42 309.76 L839.29 313.66 L851.16 316.17 L863.03 315.05 L874.9 311.57 L886.77 309.76 L898.65 305.16 L910.52 304.6 L922.39 304.6 L934.26 311.57 L946.13 303.07 L958 305.16" stroke="#00ffff" stroke-width="1.25" fill="none" stroke-linejoin="round"/>
<path clip-path="url(#c22)" d="M670.4 309.76h5.4 M673.1 307.06v5.4 M670.4 307.06l5.4 5.4 M670.4 312.46l5.4 -5.4 M682.27 310.18h5.4 M684.97 307.48v5.4 M682.27 307.48l5.4 5.4 M682.27 312.88l5.4 -5.4 M694.14 311.57h5.4 M696.84 308.87v5.4 M694.14 308.87l5.4 5.4 M694.14 314.27l5.4 -5.4 M706.01 313.66h5.4 M708.71 310.96v5.4 M706.01 310.96l5.4 5.4 M706.01 316.36l5.4 -5.4 M717.88 316.17h5.4 M720.58 313.47v5.4 M717.88 313.47l5.4 5.4 M717.88 318.87l5.4 -5.4 M729.75 315.75h5.4 M732.45 313.05v5.4 M729.75 313.05l5.4 5.4 M729.75 318.45l5.4 -5.4 M741.62 313.66h5.4 M744.33 310.96v5.4 M741.62 310.96l5.4 5.4 M741.62 316.36l5.4 -5.4 M753.5 312.27h5.4 M756.2 309.57v5.4 M753.5 309.57l5.4 5.4 M753.5 314.97l5.4 -5.4 M765.37 310.87h5.4 M768.07 308.17v5.4 M765.37 308.17l5.4 5.4 M765.37 313.57l5.4 -5.4 M777.24 308.78h5.4 M779.94 306.08v5.4 M777.24 306.08l5.4 5.4 M777.24 311.48l5.4 -5.4 M789.11 313.66h5.4 M791.81 310.96v5.4 M789.11 310.96l5.4 5.4 M789.11 316.36l5.4 -5.4 M800.98 311.57h5.4 M803.68 308.87v5.4 M800.98 308.87l5.4 5.4 M800.98 314.27l5.4 -5.4 M812.85 308.78h5.4 M815.55 306.08v5.4 M812.85 306.08l5.4 5.4 M812.85 311.48l5.4 -5.4 M824.72 309.76h5.4 M827.42 307.06v5.4 M824.72 307.06l5.4 5.4 M824.72 312.46l5.4 -5.4 M836.59 313.66h5.4 M839.29 310.96v5.4 M836.59 310.96l5.4 5.4 M836.59 316.36l5.4 -5.4 M848.46 316.17h5.4 M851.16 313.47v5.4 M848.46 313.47l5.4 5.4 M848.46 318.87l5.4 -5.4 M860.33 315.05h5.4 M863.03 312.35v5.4 M860.33 312.35l5.4 5.4 M860.33 317.75l5.4 -5.4 M872.2 311.57h5.4 M874.9 308.87v5.4 M872.2 308.87l5.4 5.4 M872.2 314.27l5.4 -5.4 M884.07 309.76h5.4 M886.77 307.06v5.4 M884.07 307.06l5.4 5.4 M884.07 312.46l5.4 -5.4 M895.95 305.16h5.4 M898.65 302.46v5.4 M895.95 302.46l5.4 5.4 M895.95 307.86l5.4 -5.4 M907.82 304.6h5.4 M910.52 301.9v5.4 M907.82 301.9l5.4 5.4 M907.82 307.3l5.4 -5.4 M919.69 304.6h5.4 M922.39 301.9v5.4 M919.69 301.9l5.4 5.4 M919.69 307.3l5.4 -5.4 M931.56 311.57h5.4 M934.26 308.87v5.4 M931.56 308.87l5.4 5.4 M931.56 314.27l5.4 -5.4 M943.43 303.07h5.4 M946.13 300.37v5.4 M943.43 300.37l5.4 5.4 M943.43 305.77l5.4 -5.4 M955.3 305.16h5.4 M958 302.46v5.4 M955.3 302.46l5.4 5.4 M955.3 307.86l5.4 -5.4" stroke="#00ffff" stroke-width="1.15" fill="none"/>
<path clip-path="url(#c22l)" d="M673.1 304.6 L696.84 311.57 L708.71 315.05 L720.58 315.75 L732.45 315.75 L744.33 318.26 L756.2 316.17 L768.07 311.57 L779.94 305.16 L791.81 308.78 L803.68 307.67 L815.55 303.07 L827.42 308.09 L839.29 311.57 L886.77 296.8 L898.65 297.22 L910.52 298.33 L922.39 270.33 L934.26 254.16 L946.13 254.16 L958 261.13" stroke="#00ff00" stroke-width="1.25" fill="none" stroke-linejoin="round"/>
<path clip-path="url(#c22)" d="M670.4 304.6h5.4 M673.1 301.9v5.4 M670.4 301.9l5.4 5.4 M670.4 307.3l5.4 -5.4 M694.14 311.57h5.4 M696.84 308.87v5.4 M694.14 308.87l5.4 5.4 M694.14 314.27l5.4 -5.4 M706.01 315.05h5.4 M708.71 312.35v5.4 M706.01 312.35l5.4 5.4 M706.01 317.75l5.4 -5.4 M717.88 315.75h5.4 M720.58 313.05v5.4 M717.88 313.05l5.4 5.4 M717.88 318.45l5.4 -5.4 M729.75 315.75h5.4 M732.45 313.05v5.4 M729.75 313.05l5.4 5.4 M729.75 318.45l5.4 -5.4 M741.62 318.26h5.4 M744.33 315.56v5.4 M741.62 315.56l5.4 5.4 M741.62 320.96l5.4 -5.4 M753.5 316.17h5.4 M756.2 313.47v5.4 M753.5 313.47l5.4 5.4 M753.5 318.87l5.4 -5.4 M765.37 311.57h5.4 M768.07 308.87v5.4 M765.37 308.87l5.4 5.4 M765.37 314.27l5.4 -5.4 M777.24 305.16h5.4 M779.94 302.46v5.4 M777.24 302.46l5.4 5.4 M777.24 307.86l5.4 -5.4 M789.11 308.78h5.4 M791.81 306.08v5.4 M789.11 306.08l5.4 5.4 M789.11 311.48l5.4 -5.4 M800.98 307.67h5.4 M803.68 304.97v5.4 M800.98 304.97l5.4 5.4 M800.98 310.37l5.4 -5.4 M812.85 303.07h5.4 M815.55 300.37v5.4 M812.85 300.37l5.4 5.4 M812.85 305.77l5.4 -5.4 M824.72 308.09h5.4 M827.42 305.39v5.4 M824.72 305.39l5.4 5.4 M824.72 310.79l5.4 -5.4 M836.59 311.57h5.4 M839.29 308.87v5.4 M836.59 308.87l5.4 5.4 M836.59 314.27l5.4 -5.4 M884.07 296.8h5.4 M886.77 294.1v5.4 M884.07 294.1l5.4 5.4 M884.07 299.5l5.4 -5.4 M895.95 297.22h5.4 M898.65 294.52v5.4 M895.95 294.52l5.4 5.4 M895.95 299.92l5.4 -5.4 M907.82 298.33h5.4 M910.52 295.63v5.4 M907.82 295.63l5.4 5.4 M907.82 301.03l5.4 -5.4 M919.69 270.33h5.4 M922.39 267.63v5.4 M919.69 267.63l5.4 5.4 M919.69 273.03l5.4 -5.4 M931.56 254.16h5.4 M934.26 251.46v5.4 M931.56 251.46l5.4 5.4 M931.56 256.86l5.4 -5.4 M943.43 254.16h5.4 M946.13 251.46v5.4 M943.43 251.46l5.4 5.4 M943.43 256.86l5.4 -5.4 M955.3 261.13h5.4 M958 258.43v5.4 M955.3 258.43l5.4 5.4 M955.3 263.83l5.4 -5.4" stroke="#00ff00" stroke-width="1.15" fill="none"/>
<path clip-path="url(#c22l)" d="M673.1 260.43 L684.97 256.67 L696.84 254.58 L708.71 250.54 L720.58 252.07 L732.45 257.37 L744.33 261.55 L756.2 263.22 L768.07 261.55 L779.94 263.64 L791.81 265.31 L803.68 267.82 L815.55 268.79 L827.42 256.67 L839.29 249.98 L851.16 256.25 L863.03 259.46 L874.9 254.72 L886.77 256.95 L898.65 256.95 L910.52 256.95 L922.39 261.97 L934.26 259.46 L946.13 264.06 L958 265.31" stroke="#0000ff" stroke-width="1.25" fill="none" stroke-linejoin="round"/>
<path clip-path="url(#c22)" d="M670.4 260.43h5.4 M673.1 257.73v5.4 M670.4 257.73l5.4 5.4 M670.4 263.13l5.4 -5.4 M682.27 256.67h5.4 M684.97 253.97v5.4 M682.27 253.97l5.4 5.4 M682.27 259.37l5.4 -5.4 M694.14 254.58h5.4 M696.84 251.88v5.4 M694.14 251.88l5.4 5.4 M694.14 257.28l5.4 -5.4 M706.01 250.54h5.4 M708.71 247.84v5.4 M706.01 247.84l5.4 5.4 M706.01 253.24l5.4 -5.4 M717.88 252.07h5.4 M720.58 249.37v5.4 M717.88 249.37l5.4 5.4 M717.88 254.77l5.4 -5.4 M729.75 257.37h5.4 M732.45 254.67v5.4 M729.75 254.67l5.4 5.4 M729.75 260.07l5.4 -5.4 M741.62 261.55h5.4 M744.33 258.85v5.4 M741.62 258.85l5.4 5.4 M741.62 264.25l5.4 -5.4 M753.5 263.22h5.4 M756.2 260.52v5.4 M753.5 260.52l5.4 5.4 M753.5 265.92l5.4 -5.4 M765.37 261.55h5.4 M768.07 258.85v5.4 M765.37 258.85l5.4 5.4 M765.37 264.25l5.4 -5.4 M777.24 263.64h5.4 M779.94 260.94v5.4 M777.24 260.94l5.4 5.4 M777.24 266.34l5.4 -5.4 M789.11 265.31h5.4 M791.81 262.61v5.4 M789.11 262.61l5.4 5.4 M789.11 268.01l5.4 -5.4 M800.98 267.82h5.4 M803.68 265.12v5.4 M800.98 265.12l5.4 5.4 M800.98 270.52l5.4 -5.4 M812.85 268.79h5.4 M815.55 266.09v5.4 M812.85 266.09l5.4 5.4 M812.85 271.49l5.4 -5.4 M824.72 256.67h5.4 M827.42 253.97v5.4 M824.72 253.97l5.4 5.4 M824.72 259.37l5.4 -5.4 M836.59 249.98h5.4 M839.29 247.28v5.4 M836.59 247.28l5.4 5.4 M836.59 252.68l5.4 -5.4 M848.46 256.25h5.4 M851.16 253.55v5.4 M848.46 253.55l5.4 5.4 M848.46 258.95l5.4 -5.4 M860.33 259.46h5.4 M863.03 256.76v5.4 M860.33 256.76l5.4 5.4 M860.33 262.16l5.4 -5.4 M872.2 254.72h5.4 M874.9 252.02v5.4 M872.2 252.02l5.4 5.4 M872.2 257.42l5.4 -5.4 M884.07 256.95h5.4 M886.77 254.25v5.4 M884.07 254.25l5.4 5.4 M884.07 259.65l5.4 -5.4 M895.95 256.95h5.4 M898.65 254.25v5.4 M895.95 254.25l5.4 5.4 M895.95 259.65l5.4 -5.4 M907.82 256.95h5.4 M910.52 254.25v5.4 M907.82 254.25l5.4 5.4 M907.82 259.65l5.4 -5.4 M919.69 261.97h5.4 M922.39 259.27v5.4 M919.69 259.27l5.4 5.4 M919.69 264.67l5.4 -5.4 M931.56 259.46h5.4 M934.26 256.76v5.4 M931.56 256.76l5.4 5.4 M931.56 262.16l5.4 -5.4 M943.43 264.06h5.4 M946.13 261.36v5.4 M943.43 261.36l5.4 5.4 M943.43 266.76l5.4 -5.4 M955.3 265.31h5.4 M958 262.61v5.4 M955.3 262.61l5.4 5.4 M955.3 268.01l5.4 -5.4" stroke="#0000ff" stroke-width="1.15" fill="none"/>
<path clip-path="url(#c22l)" d="M673.1 265.31 L708.71 269.91 L720.58 271.58 L732.45 271.58 L744.33 271.58 L756.2 269.49 L768.07 262.52 L779.94 264.06 L791.81 281.06 L863.03 287.74 L874.9 290.95 L886.77 294.71 L898.65 291.92 L910.52 290.53 L922.39 289.83 L934.26 291.92 L946.13 290.95 L958 294.01" stroke="#ff0000" stroke-width="1.25" fill="none" stroke-linejoin="round"/>
<path clip-path="url(#c22)" d="M670.4 265.31h5.4 M673.1 262.61v5.4 M670.4 262.61l5.4 5.4 M670.4 268.01l5.4 -5.4 M706.01 269.91h5.4 M708.71 267.21v5.4 M706.01 267.21l5.4 5.4 M706.01 272.61l5.4 -5.4 M717.88 271.58h5.4 M720.58 268.88v5.4 M717.88 268.88l5.4 5.4 M717.88 274.28l5.4 -5.4 M729.75 271.58h5.4 M732.45 268.88v5.4 M729.75 268.88l5.4 5.4 M729.75 274.28l5.4 -5.4 M741.62 271.58h5.4 M744.33 268.88v5.4 M741.62 268.88l5.4 5.4 M741.62 274.28l5.4 -5.4 M753.5 269.49h5.4 M756.2 266.79v5.4 M753.5 266.79l5.4 5.4 M753.5 272.19l5.4 -5.4 M765.37 262.52h5.4 M768.07 259.82v5.4 M765.37 259.82l5.4 5.4 M765.37 265.22l5.4 -5.4 M777.24 264.06h5.4 M779.94 261.36v5.4 M777.24 261.36l5.4 5.4 M777.24 266.76l5.4 -5.4 M789.11 281.06h5.4 M791.81 278.36v5.4 M789.11 278.36l5.4 5.4 M789.11 283.76l5.4 -5.4 M860.33 287.74h5.4 M863.03 285.04v5.4 M860.33 285.04l5.4 5.4 M860.33 290.44l5.4 -5.4 M872.2 290.95h5.4 M874.9 288.25v5.4 M872.2 288.25l5.4 5.4 M872.2 293.65l5.4 -5.4 M884.07 294.71h5.4 M886.77 292.01v5.4 M884.07 292.01l5.4 5.4 M884.07 297.41l5.4 -5.4 M895.95 291.92h5.4 M898.65 289.22v5.4 M895.95 289.22l5.4 5.4 M895.95 294.62l5.4 -5.4 M907.82 290.53h5.4 M910.52 287.83v5.4 M907.82 287.83l5.4 5.4 M907.82 293.23l5.4 -5.4 M919.69 289.83h5.4 M922.39 287.13v5.4 M919.69 287.13l5.4 5.4 M919.69 292.53l5.4 -5.4 M931.56 291.92h5.4 M934.26 289.22v5.4 M931.56 289.22l5.4 5.4 M931.56 294.62l5.4 -5.4 M943.43 290.95h5.4 M946.13 288.25v5.4 M943.43 288.25l5.4 5.4 M943.43 293.65l5.4 -5.4 M955.3 294.01h5.4 M958 291.31v5.4 M955.3 291.31l5.4 5.4 M955.3 296.71l5.4 -5.4" stroke="#ff0000" stroke-width="1.15" fill="none"/>
<path d="M673.1 311.92H958 M673.1 297.98H958 M673.1 284.05H958 M673.1 270.12H958 M673.1 256.18H958" stroke="#000" stroke-width="1.3" stroke-dasharray="1.3 1.8175" stroke-dashoffset="2.1335" stroke-opacity="0.9" fill="none"/><path d="M720.58 242.25V325.85 M768.07 242.25V325.85 M815.55 242.25V325.85 M863.03 242.25V325.85 M910.52 242.25V325.85" stroke="#000" stroke-width="1.3" stroke-dasharray="1.3 1.8175" stroke-dashoffset="1.9475" stroke-opacity="0.9" fill="none"/>
<text class="n" transform="translate(668.2 328.65) scale(1.1 1)" text-anchor="end">0.4</text>
<text class="n" transform="translate(668.2 314.72) scale(1.1 1)" text-anchor="end">0.5</text>
<text class="n" transform="translate(668.2 300.78) scale(1.1 1)" text-anchor="end">0.6</text>
<text class="n" transform="translate(668.2 286.85) scale(1.1 1)" text-anchor="end">0.7</text>
<text class="n" transform="translate(668.2 272.92) scale(1.1 1)" text-anchor="end">0.8</text>
<text class="n" transform="translate(668.2 258.98) scale(1.1 1)" text-anchor="end">0.9</text>
<text class="n" transform="translate(668.2 245.05) scale(1.1 1)" text-anchor="end">1.0</text>
<text class="n" transform="translate(673.1 336.85) scale(1.1 1)" text-anchor="middle">0</text>
<text class="n" transform="translate(720.58 336.85) scale(1.1 1)" text-anchor="middle">4</text>
<text class="n" transform="translate(768.07 336.85) scale(1.1 1)" text-anchor="middle">8</text>
<text class="n" transform="translate(815.55 336.85) scale(1.1 1)" text-anchor="middle">12</text>
<text class="n" transform="translate(863.03 336.85) scale(1.1 1)" text-anchor="middle">16</text>
<text class="n" transform="translate(910.52 336.85) scale(1.1 1)" text-anchor="middle">20</text>
<text class="n" transform="translate(958 336.85) scale(1.1 1)" text-anchor="middle">24</text>
<text class="t" x="918.5" y="238.7" textLength="10.3" lengthAdjust="spacingAndGlyphs">CO</text>
<text class="t" x="932.8" y="238.7" textLength="26.2" lengthAdjust="spacingAndGlyphs">(ppm)</text>
</svg>
</body></html>
